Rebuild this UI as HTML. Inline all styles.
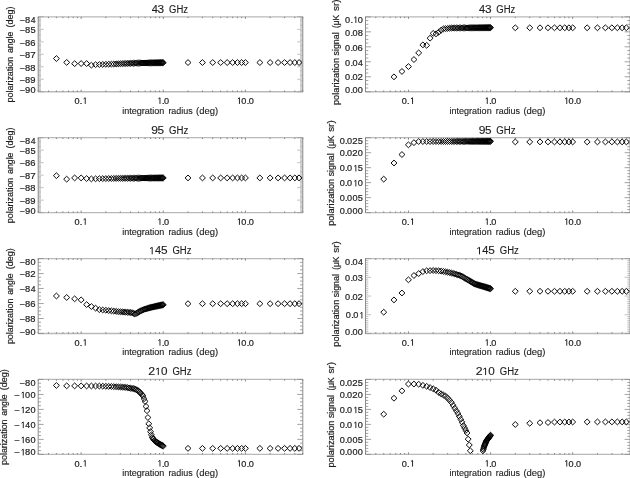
<!DOCTYPE html>
<html><head><meta charset="utf-8"><style>
html,body{margin:0;padding:0;background:#fff;}
body{width:630px;height:478px;overflow:hidden;}
svg{display:block;will-change:transform;}
text{font-family:"Liberation Sans",sans-serif;}
</style></head><body>
<svg width="630" height="478" viewBox="0 0 630 478">
<rect width="630" height="478" fill="#fff"/>
<defs><clipPath id="c0"><rect x="38.20" y="16.85" width="264.60" height="74.90"/></clipPath><clipPath id="c1"><rect x="365.50" y="16.85" width="264.60" height="74.90"/></clipPath><clipPath id="c2"><rect x="38.20" y="137.72" width="264.60" height="74.90"/></clipPath><clipPath id="c3"><rect x="365.50" y="137.72" width="264.60" height="74.90"/></clipPath><clipPath id="c4"><rect x="38.20" y="258.59" width="264.60" height="74.90"/></clipPath><clipPath id="c5"><rect x="365.50" y="258.59" width="264.60" height="74.90"/></clipPath><clipPath id="c6"><rect x="38.20" y="379.46" width="264.60" height="74.90"/></clipPath><clipPath id="c7"><rect x="365.50" y="379.46" width="264.60" height="74.90"/></clipPath></defs>
<line x1="38.20" y1="16.85" x2="302.80" y2="16.85" stroke="#b9b9b9" stroke-width="1.3"/>
<line x1="38.20" y1="91.75" x2="302.80" y2="91.75" stroke="#b9b9b9" stroke-width="1.3"/>
<path d="M38.20,91.75h5.5M302.80,91.75h-5.5M38.20,90.50h2.8M302.80,90.50h-2.8M38.20,89.25h2.8M302.80,89.25h-2.8M38.20,88.00h2.8M302.80,88.00h-2.8M38.20,86.76h2.8M302.80,86.76h-2.8M38.20,85.51h2.8M302.80,85.51h-2.8M38.20,84.26h2.8M302.80,84.26h-2.8M38.20,83.01h2.8M302.80,83.01h-2.8M38.20,81.76h2.8M302.80,81.76h-2.8M38.20,80.52h2.8M302.80,80.52h-2.8M38.20,79.27h5.5M302.80,79.27h-5.5M38.20,78.02h2.8M302.80,78.02h-2.8M38.20,76.77h2.8M302.80,76.77h-2.8M38.20,75.52h2.8M302.80,75.52h-2.8M38.20,74.27h2.8M302.80,74.27h-2.8M38.20,73.03h2.8M302.80,73.03h-2.8M38.20,71.78h2.8M302.80,71.78h-2.8M38.20,70.53h2.8M302.80,70.53h-2.8M38.20,69.28h2.8M302.80,69.28h-2.8M38.20,68.03h2.8M302.80,68.03h-2.8M38.20,66.78h5.5M302.80,66.78h-5.5M38.20,65.53h2.8M302.80,65.53h-2.8M38.20,64.29h2.8M302.80,64.29h-2.8M38.20,63.04h2.8M302.80,63.04h-2.8M38.20,61.79h2.8M302.80,61.79h-2.8M38.20,60.54h2.8M302.80,60.54h-2.8M38.20,59.29h2.8M302.80,59.29h-2.8M38.20,58.04h2.8M302.80,58.04h-2.8M38.20,56.80h2.8M302.80,56.80h-2.8M38.20,55.55h2.8M302.80,55.55h-2.8M38.20,54.30h5.5M302.80,54.30h-5.5M38.20,53.05h2.8M302.80,53.05h-2.8M38.20,51.80h2.8M302.80,51.80h-2.8M38.20,50.55h2.8M302.80,50.55h-2.8M38.20,49.31h2.8M302.80,49.31h-2.8M38.20,48.06h2.8M302.80,48.06h-2.8M38.20,46.81h2.8M302.80,46.81h-2.8M38.20,45.56h2.8M302.80,45.56h-2.8M38.20,44.31h2.8M302.80,44.31h-2.8M38.20,43.06h2.8M302.80,43.06h-2.8M38.20,41.82h5.5M302.80,41.82h-5.5M38.20,40.57h2.8M302.80,40.57h-2.8M38.20,39.32h2.8M302.80,39.32h-2.8M38.20,38.07h2.8M302.80,38.07h-2.8M38.20,36.82h2.8M302.80,36.82h-2.8M38.20,35.57h2.8M302.80,35.57h-2.8M38.20,34.33h2.8M302.80,34.33h-2.8M38.20,33.08h2.8M302.80,33.08h-2.8M38.20,31.83h2.8M302.80,31.83h-2.8M38.20,30.58h2.8M302.80,30.58h-2.8M38.20,29.33h5.5M302.80,29.33h-5.5M38.20,28.08h2.8M302.80,28.08h-2.8M38.20,26.84h2.8M302.80,26.84h-2.8M38.20,25.59h2.8M302.80,25.59h-2.8M38.20,24.34h2.8M302.80,24.34h-2.8M38.20,23.09h2.8M302.80,23.09h-2.8M38.20,21.84h2.8M302.80,21.84h-2.8M38.20,20.59h2.8M302.80,20.59h-2.8M38.20,19.35h2.8M302.80,19.35h-2.8M38.20,18.10h2.8M302.80,18.10h-2.8M38.20,16.85h5.5M302.80,16.85h-5.5" stroke="#8c8c8c" stroke-width="0.55" fill="none"/>
<line x1="38.20" y1="16.85" x2="38.20" y2="91.75" stroke="#8c8c8c" stroke-width="1"/>
<line x1="302.80" y1="16.85" x2="302.80" y2="91.75" stroke="#8c8c8c" stroke-width="1"/>
<path d="M38.20,91.75v-1.3M38.20,16.85v1.3M48.46,91.75v-1.3M48.46,16.85v1.3M56.42,91.75v-1.3M56.42,16.85v1.3M62.92,91.75v-1.3M62.92,16.85v1.3M68.42,91.75v-1.3M68.42,16.85v1.3M73.18,91.75v-1.3M73.18,16.85v1.3M77.38,91.75v-1.3M77.38,16.85v1.3M81.14,91.75v-2.0M81.14,16.85v2.0M105.86,91.75v-1.3M105.86,16.85v1.3M120.33,91.75v-1.3M120.33,16.85v1.3M130.59,91.75v-1.3M130.59,16.85v1.3M138.55,91.75v-1.3M138.55,16.85v1.3M145.05,91.75v-1.3M145.05,16.85v1.3M150.55,91.75v-1.3M150.55,16.85v1.3M155.31,91.75v-1.3M155.31,16.85v1.3M159.51,91.75v-1.3M159.51,16.85v1.3M163.27,91.75v-2.0M163.27,16.85v2.0M187.99,91.75v-1.3M187.99,16.85v1.3M202.45,91.75v-1.3M202.45,16.85v1.3M212.71,91.75v-1.3M212.71,16.85v1.3M220.67,91.75v-1.3M220.67,16.85v1.3M227.18,91.75v-1.3M227.18,16.85v1.3M232.67,91.75v-1.3M232.67,16.85v1.3M237.44,91.75v-1.3M237.44,16.85v1.3M241.64,91.75v-1.3M241.64,16.85v1.3M245.40,91.75v-2.0M245.40,16.85v2.0M270.12,91.75v-1.3M270.12,16.85v1.3M284.58,91.75v-1.3M284.58,16.85v1.3M294.84,91.75v-1.3M294.84,16.85v1.3M302.80,91.75v-1.3M302.80,16.85v1.3" stroke="#777" stroke-width="0.9" fill="none"/>
<path clip-path="url(#c0)" d="M53.42,58.54L56.42,55.64L59.42,58.54L56.42,61.44ZM63.68,62.41L66.68,59.51L69.68,62.41L66.68,65.31ZM71.64,63.66L74.64,60.76L77.64,63.66L74.64,66.56ZM78.14,63.54L81.14,60.64L84.14,63.54L81.14,66.44ZM83.64,63.54L86.64,60.64L89.64,63.54L86.64,66.44ZM88.40,65.16L91.40,62.26L94.40,65.16L91.40,68.06ZM92.60,64.66L95.60,61.76L98.60,64.66L95.60,67.56ZM96.36,64.54L99.36,61.64L102.36,64.54L99.36,67.44ZM99.76,64.42L102.76,61.52L105.76,64.42L102.76,67.32ZM102.86,64.31L105.86,61.41L108.86,64.31L105.86,67.21ZM105.72,64.21L108.72,61.31L111.72,64.21L108.72,67.11ZM108.36,64.12L111.36,61.22L114.36,64.12L111.36,67.02ZM110.82,64.04L113.82,61.14L116.82,64.04L113.82,66.94ZM113.13,63.92L116.13,61.02L119.13,63.92L116.13,66.82ZM115.29,63.82L118.29,60.92L121.29,63.82L118.29,66.72ZM117.33,63.72L120.33,60.82L123.33,63.72L120.33,66.62ZM119.26,63.63L122.26,60.73L125.26,63.63L122.26,66.53ZM121.08,63.54L124.08,60.64L127.08,63.54L124.08,66.44ZM122.82,63.48L125.82,60.58L128.82,63.48L125.82,66.38ZM124.48,63.42L127.48,60.52L130.48,63.42L127.48,66.32ZM126.07,63.37L129.07,60.47L132.07,63.37L129.07,66.27ZM127.59,63.31L130.59,60.41L133.59,63.31L130.59,66.21ZM129.04,63.26L132.04,60.36L135.04,63.26L132.04,66.16ZM130.44,63.21L133.44,60.31L136.44,63.21L133.44,66.11ZM131.79,63.17L134.79,60.27L137.79,63.17L134.79,66.07ZM133.09,63.12L136.09,60.22L139.09,63.12L136.09,66.02ZM134.34,63.08L137.34,60.18L140.34,63.08L137.34,65.98ZM135.55,63.04L138.55,60.14L141.55,63.04L138.55,65.94ZM136.72,63.02L139.72,60.12L142.72,63.02L139.72,65.92ZM137.85,63.00L140.85,60.10L143.85,63.00L140.85,65.90ZM138.95,62.99L141.95,60.09L144.95,62.99L141.95,65.89ZM140.01,62.97L143.01,60.07L146.01,62.97L143.01,65.87ZM141.04,62.96L144.04,60.06L147.04,62.96L144.04,65.86ZM142.05,62.94L145.05,60.04L148.05,62.94L145.05,65.84ZM143.03,62.93L146.03,60.03L149.03,62.93L146.03,65.83ZM143.98,62.91L146.98,60.01L149.98,62.91L146.98,65.81ZM144.90,62.90L147.90,60.00L150.90,62.90L147.90,65.80ZM145.81,62.88L148.81,59.98L151.81,62.88L148.81,65.78ZM146.69,62.87L149.69,59.97L152.69,62.87L149.69,65.77ZM147.55,62.86L150.55,59.96L153.55,62.86L150.55,65.76ZM148.39,62.84L151.39,59.94L154.39,62.84L151.39,65.74ZM149.21,62.83L152.21,59.93L155.21,62.83L152.21,65.73ZM150.01,62.82L153.01,59.92L156.01,62.82L153.01,65.72ZM150.79,62.81L153.79,59.91L156.79,62.81L153.79,65.71ZM151.56,62.80L154.56,59.90L157.56,62.80L154.56,65.70ZM152.31,62.78L155.31,59.88L158.31,62.78L155.31,65.68ZM153.05,62.77L156.05,59.87L159.05,62.77L156.05,65.67ZM153.77,62.76L156.77,59.86L159.77,62.76L156.77,65.66ZM154.47,62.75L157.47,59.85L160.47,62.75L157.47,65.65ZM155.17,62.74L158.17,59.84L161.17,62.74L158.17,65.64ZM155.84,62.73L158.84,59.83L161.84,62.73L158.84,65.63ZM156.51,62.72L159.51,59.82L162.51,62.72L159.51,65.62ZM157.17,62.71L160.17,59.81L163.17,62.71L160.17,65.61ZM157.81,62.70L160.81,59.80L163.81,62.70L160.81,65.60ZM158.44,62.69L161.44,59.79L164.44,62.69L161.44,65.59ZM159.06,62.68L162.06,59.78L165.06,62.68L162.06,65.58ZM159.67,62.67L162.67,59.77L165.67,62.67L162.67,65.57ZM160.27,62.66L163.27,59.76L166.27,62.66L163.27,65.56ZM184.99,62.54L187.99,59.64L190.99,62.54L187.99,65.44ZM199.45,62.54L202.45,59.64L205.45,62.54L202.45,65.44ZM209.71,62.54L212.71,59.64L215.71,62.54L212.71,65.44ZM217.67,62.54L220.67,59.64L223.67,62.54L220.67,65.44ZM224.18,62.54L227.18,59.64L230.18,62.54L227.18,65.44ZM229.67,62.54L232.67,59.64L235.67,62.54L232.67,65.44ZM234.44,62.54L237.44,59.64L240.44,62.54L237.44,65.44ZM238.64,62.54L241.64,59.64L244.64,62.54L241.64,65.44ZM242.40,62.54L245.40,59.64L248.40,62.54L245.40,65.44ZM256.86,62.54L259.86,59.64L262.86,62.54L259.86,65.44ZM267.12,62.54L270.12,59.64L273.12,62.54L270.12,65.44ZM275.08,62.54L278.08,59.64L281.08,62.54L278.08,65.44ZM281.58,62.54L284.58,59.64L287.58,62.54L284.58,65.44ZM287.08,62.54L290.08,59.64L293.08,62.54L290.08,65.44ZM291.84,62.54L294.84,59.64L297.84,62.54L294.84,65.44ZM296.04,62.54L299.04,59.64L302.04,62.54L299.04,65.44Z" fill="none" stroke="#000" stroke-width="0.95"/>
<line x1="365.50" y1="16.85" x2="630.10" y2="16.85" stroke="#b9b9b9" stroke-width="1.3"/>
<line x1="365.50" y1="91.75" x2="630.10" y2="91.75" stroke="#b9b9b9" stroke-width="1.3"/>
<path d="M365.50,91.75h5.5M630.10,91.75h-5.5M365.50,88.00h2.8M630.10,88.00h-2.8M365.50,84.26h2.8M630.10,84.26h-2.8M365.50,80.52h2.8M630.10,80.52h-2.8M365.50,76.77h5.5M630.10,76.77h-5.5M365.50,73.03h2.8M630.10,73.03h-2.8M365.50,69.28h2.8M630.10,69.28h-2.8M365.50,65.53h2.8M630.10,65.53h-2.8M365.50,61.79h5.5M630.10,61.79h-5.5M365.50,58.04h2.8M630.10,58.04h-2.8M365.50,54.30h2.8M630.10,54.30h-2.8M365.50,50.55h2.8M630.10,50.55h-2.8M365.50,46.81h5.5M630.10,46.81h-5.5M365.50,43.06h2.8M630.10,43.06h-2.8M365.50,39.32h2.8M630.10,39.32h-2.8M365.50,35.57h2.8M630.10,35.57h-2.8M365.50,31.83h5.5M630.10,31.83h-5.5M365.50,28.08h2.8M630.10,28.08h-2.8M365.50,24.34h2.8M630.10,24.34h-2.8M365.50,20.59h2.8M630.10,20.59h-2.8M365.50,16.85h5.5M630.10,16.85h-5.5" stroke="#8c8c8c" stroke-width="0.8" fill="none"/>
<line x1="365.50" y1="16.85" x2="365.50" y2="91.75" stroke="#8c8c8c" stroke-width="1"/>
<line x1="630.10" y1="16.85" x2="630.10" y2="91.75" stroke="#8c8c8c" stroke-width="1"/>
<path d="M365.50,91.75v-1.3M365.50,16.85v1.3M375.76,91.75v-1.3M375.76,16.85v1.3M383.72,91.75v-1.3M383.72,16.85v1.3M390.22,91.75v-1.3M390.22,16.85v1.3M395.72,91.75v-1.3M395.72,16.85v1.3M400.48,91.75v-1.3M400.48,16.85v1.3M404.68,91.75v-1.3M404.68,16.85v1.3M408.44,91.75v-2.0M408.44,16.85v2.0M433.16,91.75v-1.3M433.16,16.85v1.3M447.63,91.75v-1.3M447.63,16.85v1.3M457.89,91.75v-1.3M457.89,16.85v1.3M465.85,91.75v-1.3M465.85,16.85v1.3M472.35,91.75v-1.3M472.35,16.85v1.3M477.85,91.75v-1.3M477.85,16.85v1.3M482.61,91.75v-1.3M482.61,16.85v1.3M486.81,91.75v-1.3M486.81,16.85v1.3M490.57,91.75v-2.0M490.57,16.85v2.0M515.29,91.75v-1.3M515.29,16.85v1.3M529.75,91.75v-1.3M529.75,16.85v1.3M540.01,91.75v-1.3M540.01,16.85v1.3M547.97,91.75v-1.3M547.97,16.85v1.3M554.48,91.75v-1.3M554.48,16.85v1.3M559.97,91.75v-1.3M559.97,16.85v1.3M564.74,91.75v-1.3M564.74,16.85v1.3M568.94,91.75v-1.3M568.94,16.85v1.3M572.70,91.75v-2.0M572.70,16.85v2.0M597.42,91.75v-1.3M597.42,16.85v1.3M611.88,91.75v-1.3M611.88,16.85v1.3M622.14,91.75v-1.3M622.14,16.85v1.3M630.10,91.75v-1.3M630.10,16.85v1.3" stroke="#777" stroke-width="0.9" fill="none"/>
<path clip-path="url(#c1)" d="M390.98,76.84L393.98,73.94L396.98,76.84L393.98,79.74ZM398.94,71.45L401.94,68.55L404.94,71.45L401.94,74.35ZM405.44,66.58L408.44,63.68L411.44,66.58L408.44,69.48ZM410.94,59.54L413.94,56.64L416.94,59.54L413.94,62.44ZM415.70,52.88L418.70,49.98L421.70,52.88L418.70,55.78ZM419.90,44.86L422.90,41.96L425.90,44.86L422.90,47.76ZM423.66,45.31L426.66,42.41L429.66,45.31L426.66,48.21ZM427.06,38.20L430.06,35.30L433.06,38.20L430.06,41.10ZM430.16,33.40L433.16,30.50L436.16,33.40L433.16,36.30ZM433.02,33.85L436.02,30.95L439.02,33.85L436.02,36.75ZM435.66,32.20L438.66,29.30L441.66,32.20L438.66,35.10ZM438.12,30.18L441.12,27.28L444.12,30.18L441.12,33.08ZM440.43,28.83L443.43,25.93L446.43,28.83L443.43,31.73ZM442.59,28.61L445.59,25.71L448.59,28.61L445.59,31.51ZM444.63,28.40L447.63,25.50L450.63,28.40L447.63,31.30ZM446.56,28.20L449.56,25.30L452.56,28.20L449.56,31.10ZM448.38,28.01L451.38,25.11L454.38,28.01L451.38,30.91ZM450.12,27.99L453.12,25.09L456.12,27.99L453.12,30.89ZM451.78,27.98L454.78,25.08L457.78,27.98L454.78,30.88ZM453.37,27.96L456.37,25.06L459.37,27.96L456.37,30.86ZM454.89,27.95L457.89,25.05L460.89,27.95L457.89,30.85ZM456.34,27.93L459.34,25.03L462.34,27.93L459.34,30.83ZM457.74,27.92L460.74,25.02L463.74,27.92L460.74,30.82ZM459.09,27.91L462.09,25.01L465.09,27.91L462.09,30.81ZM460.39,27.90L463.39,25.00L466.39,27.90L463.39,30.80ZM461.64,27.88L464.64,24.98L467.64,27.88L464.64,30.78ZM462.85,27.87L465.85,24.97L468.85,27.87L465.85,30.77ZM464.02,27.86L467.02,24.96L470.02,27.86L467.02,30.76ZM465.15,27.85L468.15,24.95L471.15,27.85L468.15,30.75ZM466.25,27.84L469.25,24.94L472.25,27.84L469.25,30.74ZM467.31,27.83L470.31,24.93L473.31,27.83L470.31,30.73ZM468.34,27.82L471.34,24.92L474.34,27.82L471.34,30.72ZM469.35,27.81L472.35,24.91L475.35,27.81L472.35,30.71ZM470.33,27.80L473.33,24.90L476.33,27.80L473.33,30.70ZM471.28,27.79L474.28,24.89L477.28,27.79L474.28,30.69ZM472.20,27.78L475.20,24.88L478.20,27.78L475.20,30.68ZM473.11,27.77L476.11,24.87L479.11,27.77L476.11,30.67ZM473.99,27.77L476.99,24.87L479.99,27.77L476.99,30.67ZM474.85,27.76L477.85,24.86L480.85,27.76L477.85,30.66ZM475.69,27.75L478.69,24.85L481.69,27.75L478.69,30.65ZM476.51,27.74L479.51,24.84L482.51,27.74L479.51,30.64ZM477.31,27.73L480.31,24.83L483.31,27.73L480.31,30.63ZM478.09,27.73L481.09,24.83L484.09,27.73L481.09,30.63ZM478.86,27.72L481.86,24.82L484.86,27.72L481.86,30.62ZM479.61,27.71L482.61,24.81L485.61,27.71L482.61,30.61ZM480.35,27.70L483.35,24.80L486.35,27.70L483.35,30.60ZM481.07,27.70L484.07,24.80L487.07,27.70L484.07,30.60ZM481.77,27.69L484.77,24.79L487.77,27.69L484.77,30.59ZM482.47,27.68L485.47,24.78L488.47,27.68L485.47,30.58ZM483.14,27.68L486.14,24.78L489.14,27.68L486.14,30.58ZM483.81,27.67L486.81,24.77L489.81,27.67L486.81,30.57ZM484.47,27.67L487.47,24.77L490.47,27.67L487.47,30.57ZM485.11,27.66L488.11,24.76L491.11,27.66L488.11,30.56ZM485.74,27.65L488.74,24.75L491.74,27.65L488.74,30.55ZM486.36,27.65L489.36,24.75L492.36,27.65L489.36,30.55ZM486.97,27.64L489.97,24.74L492.97,27.64L489.97,30.54ZM487.57,27.64L490.57,24.74L493.57,27.64L490.57,30.54ZM512.29,27.79L515.29,24.89L518.29,27.79L515.29,30.69ZM526.75,27.79L529.75,24.89L532.75,27.79L529.75,30.69ZM537.01,27.79L540.01,24.89L543.01,27.79L540.01,30.69ZM544.97,27.79L547.97,24.89L550.97,27.79L547.97,30.69ZM551.48,27.79L554.48,24.89L557.48,27.79L554.48,30.69ZM556.97,27.79L559.97,24.89L562.97,27.79L559.97,30.69ZM561.74,27.79L564.74,24.89L567.74,27.79L564.74,30.69ZM565.94,27.79L568.94,24.89L571.94,27.79L568.94,30.69ZM569.70,27.79L572.70,24.89L575.70,27.79L572.70,30.69ZM584.16,27.79L587.16,24.89L590.16,27.79L587.16,30.69ZM594.42,27.79L597.42,24.89L600.42,27.79L597.42,30.69ZM602.38,27.79L605.38,24.89L608.38,27.79L605.38,30.69ZM608.88,27.79L611.88,24.89L614.88,27.79L611.88,30.69ZM614.38,27.79L617.38,24.89L620.38,27.79L617.38,30.69ZM619.14,27.79L622.14,24.89L625.14,27.79L622.14,30.69ZM623.34,27.79L626.34,24.89L629.34,27.79L626.34,30.69Z" fill="none" stroke="#000" stroke-width="0.95"/>
<line x1="38.20" y1="137.72" x2="302.80" y2="137.72" stroke="#b9b9b9" stroke-width="1.3"/>
<line x1="38.20" y1="212.62" x2="302.80" y2="212.62" stroke="#b9b9b9" stroke-width="1.3"/>
<path d="M38.20,212.62h5.5M302.80,212.62h-5.5M38.20,211.37h2.8M302.80,211.37h-2.8M38.20,210.12h2.8M302.80,210.12h-2.8M38.20,208.88h2.8M302.80,208.88h-2.8M38.20,207.63h2.8M302.80,207.63h-2.8M38.20,206.38h2.8M302.80,206.38h-2.8M38.20,205.13h2.8M302.80,205.13h-2.8M38.20,203.88h2.8M302.80,203.88h-2.8M38.20,202.63h2.8M302.80,202.63h-2.8M38.20,201.38h2.8M302.80,201.38h-2.8M38.20,200.14h5.5M302.80,200.14h-5.5M38.20,198.89h2.8M302.80,198.89h-2.8M38.20,197.64h2.8M302.80,197.64h-2.8M38.20,196.39h2.8M302.80,196.39h-2.8M38.20,195.14h2.8M302.80,195.14h-2.8M38.20,193.90h2.8M302.80,193.90h-2.8M38.20,192.65h2.8M302.80,192.65h-2.8M38.20,191.40h2.8M302.80,191.40h-2.8M38.20,190.15h2.8M302.80,190.15h-2.8M38.20,188.90h2.8M302.80,188.90h-2.8M38.20,187.65h5.5M302.80,187.65h-5.5M38.20,186.41h2.8M302.80,186.41h-2.8M38.20,185.16h2.8M302.80,185.16h-2.8M38.20,183.91h2.8M302.80,183.91h-2.8M38.20,182.66h2.8M302.80,182.66h-2.8M38.20,181.41h2.8M302.80,181.41h-2.8M38.20,180.16h2.8M302.80,180.16h-2.8M38.20,178.91h2.8M302.80,178.91h-2.8M38.20,177.67h2.8M302.80,177.67h-2.8M38.20,176.42h2.8M302.80,176.42h-2.8M38.20,175.17h5.5M302.80,175.17h-5.5M38.20,173.92h2.8M302.80,173.92h-2.8M38.20,172.67h2.8M302.80,172.67h-2.8M38.20,171.43h2.8M302.80,171.43h-2.8M38.20,170.18h2.8M302.80,170.18h-2.8M38.20,168.93h2.8M302.80,168.93h-2.8M38.20,167.68h2.8M302.80,167.68h-2.8M38.20,166.43h2.8M302.80,166.43h-2.8M38.20,165.18h2.8M302.80,165.18h-2.8M38.20,163.94h2.8M302.80,163.94h-2.8M38.20,162.69h5.5M302.80,162.69h-5.5M38.20,161.44h2.8M302.80,161.44h-2.8M38.20,160.19h2.8M302.80,160.19h-2.8M38.20,158.94h2.8M302.80,158.94h-2.8M38.20,157.69h2.8M302.80,157.69h-2.8M38.20,156.44h2.8M302.80,156.44h-2.8M38.20,155.20h2.8M302.80,155.20h-2.8M38.20,153.95h2.8M302.80,153.95h-2.8M38.20,152.70h2.8M302.80,152.70h-2.8M38.20,151.45h2.8M302.80,151.45h-2.8M38.20,150.20h5.5M302.80,150.20h-5.5M38.20,148.95h2.8M302.80,148.95h-2.8M38.20,147.71h2.8M302.80,147.71h-2.8M38.20,146.46h2.8M302.80,146.46h-2.8M38.20,145.21h2.8M302.80,145.21h-2.8M38.20,143.96h2.8M302.80,143.96h-2.8M38.20,142.71h2.8M302.80,142.71h-2.8M38.20,141.47h2.8M302.80,141.47h-2.8M38.20,140.22h2.8M302.80,140.22h-2.8M38.20,138.97h2.8M302.80,138.97h-2.8M38.20,137.72h5.5M302.80,137.72h-5.5" stroke="#8c8c8c" stroke-width="0.55" fill="none"/>
<line x1="38.20" y1="137.72" x2="38.20" y2="212.62" stroke="#8c8c8c" stroke-width="1"/>
<line x1="302.80" y1="137.72" x2="302.80" y2="212.62" stroke="#8c8c8c" stroke-width="1"/>
<path d="M38.20,212.62v-1.3M38.20,137.72v1.3M48.46,212.62v-1.3M48.46,137.72v1.3M56.42,212.62v-1.3M56.42,137.72v1.3M62.92,212.62v-1.3M62.92,137.72v1.3M68.42,212.62v-1.3M68.42,137.72v1.3M73.18,212.62v-1.3M73.18,137.72v1.3M77.38,212.62v-1.3M77.38,137.72v1.3M81.14,212.62v-2.0M81.14,137.72v2.0M105.86,212.62v-1.3M105.86,137.72v1.3M120.33,212.62v-1.3M120.33,137.72v1.3M130.59,212.62v-1.3M130.59,137.72v1.3M138.55,212.62v-1.3M138.55,137.72v1.3M145.05,212.62v-1.3M145.05,137.72v1.3M150.55,212.62v-1.3M150.55,137.72v1.3M155.31,212.62v-1.3M155.31,137.72v1.3M159.51,212.62v-1.3M159.51,137.72v1.3M163.27,212.62v-2.0M163.27,137.72v2.0M187.99,212.62v-1.3M187.99,137.72v1.3M202.45,212.62v-1.3M202.45,137.72v1.3M212.71,212.62v-1.3M212.71,137.72v1.3M220.67,212.62v-1.3M220.67,137.72v1.3M227.18,212.62v-1.3M227.18,137.72v1.3M232.67,212.62v-1.3M232.67,137.72v1.3M237.44,212.62v-1.3M237.44,137.72v1.3M241.64,212.62v-1.3M241.64,137.72v1.3M245.40,212.62v-2.0M245.40,137.72v2.0M270.12,212.62v-1.3M270.12,137.72v1.3M284.58,212.62v-1.3M284.58,137.72v1.3M294.84,212.62v-1.3M294.84,137.72v1.3M302.80,212.62v-1.3M302.80,137.72v1.3" stroke="#777" stroke-width="0.9" fill="none"/>
<path clip-path="url(#c2)" d="M53.42,175.67L56.42,172.77L59.42,175.67L56.42,178.57ZM63.68,179.16L66.68,176.26L69.68,179.16L66.68,182.06ZM71.64,177.92L74.64,175.02L77.64,177.92L74.64,180.82ZM78.14,177.92L81.14,175.02L84.14,177.92L81.14,180.82ZM83.64,178.54L86.64,175.64L89.64,178.54L86.64,181.44ZM88.40,178.91L91.40,176.01L94.40,178.91L91.40,181.81ZM92.60,178.78L95.60,175.88L98.60,178.78L95.60,181.68ZM96.36,178.67L99.36,175.77L102.36,178.67L99.36,181.57ZM99.76,178.61L102.76,175.71L105.76,178.61L102.76,181.51ZM102.86,178.57L105.86,175.67L108.86,178.57L105.86,181.47ZM105.72,178.52L108.72,175.62L111.72,178.52L108.72,181.42ZM108.36,178.48L111.36,175.58L114.36,178.48L111.36,181.38ZM110.82,178.45L113.82,175.55L116.82,178.45L113.82,181.35ZM113.13,178.41L116.13,175.51L119.13,178.41L116.13,181.31ZM115.29,178.38L118.29,175.48L121.29,178.38L118.29,181.28ZM117.33,178.35L120.33,175.45L123.33,178.35L120.33,181.25ZM119.26,178.32L122.26,175.42L125.26,178.32L122.26,181.22ZM121.08,178.29L124.08,175.39L127.08,178.29L124.08,181.19ZM122.82,178.27L125.82,175.37L128.82,178.27L125.82,181.17ZM124.48,178.26L127.48,175.36L130.48,178.26L127.48,181.16ZM126.07,178.24L129.07,175.34L132.07,178.24L129.07,181.14ZM127.59,178.23L130.59,175.33L133.59,178.23L130.59,181.13ZM129.04,178.21L132.04,175.31L135.04,178.21L132.04,181.11ZM130.44,178.20L133.44,175.30L136.44,178.20L133.44,181.10ZM131.79,178.19L134.79,175.29L137.79,178.19L134.79,181.09ZM133.09,178.18L136.09,175.28L139.09,178.18L136.09,181.08ZM134.34,178.16L137.34,175.26L140.34,178.16L137.34,181.06ZM135.55,178.15L138.55,175.25L141.55,178.15L138.55,181.05ZM136.72,178.14L139.72,175.24L142.72,178.14L139.72,181.04ZM137.85,178.13L140.85,175.23L143.85,178.13L140.85,181.03ZM138.95,178.12L141.95,175.22L144.95,178.12L141.95,181.02ZM140.01,178.11L143.01,175.21L146.01,178.11L143.01,181.01ZM141.04,178.10L144.04,175.20L147.04,178.10L144.04,181.00ZM142.05,178.09L145.05,175.19L148.05,178.09L145.05,180.99ZM143.03,178.08L146.03,175.18L149.03,178.08L146.03,180.98ZM143.98,178.07L146.98,175.17L149.98,178.07L146.98,180.97ZM144.90,178.06L147.90,175.16L150.90,178.06L147.90,180.96ZM145.81,178.05L148.81,175.15L151.81,178.05L148.81,180.95ZM146.69,178.05L149.69,175.15L152.69,178.05L149.69,180.95ZM147.55,178.04L150.55,175.14L153.55,178.04L150.55,180.94ZM148.39,178.03L151.39,175.13L154.39,178.03L151.39,180.93ZM149.21,178.02L152.21,175.12L155.21,178.02L152.21,180.92ZM150.01,178.01L153.01,175.11L156.01,178.01L153.01,180.91ZM150.79,178.01L153.79,175.11L156.79,178.01L153.79,180.91ZM151.56,178.00L154.56,175.10L157.56,178.00L154.56,180.90ZM152.31,177.99L155.31,175.09L158.31,177.99L155.31,180.89ZM153.05,177.99L156.05,175.09L159.05,177.99L156.05,180.89ZM153.77,177.98L156.77,175.08L159.77,177.98L156.77,180.88ZM154.47,177.97L157.47,175.07L160.47,177.97L157.47,180.87ZM155.17,177.97L158.17,175.07L161.17,177.97L158.17,180.87ZM155.84,177.96L158.84,175.06L161.84,177.96L158.84,180.86ZM156.51,177.95L159.51,175.05L162.51,177.95L159.51,180.85ZM157.17,177.95L160.17,175.05L163.17,177.95L160.17,180.85ZM157.81,177.94L160.81,175.04L163.81,177.94L160.81,180.84ZM158.44,177.93L161.44,175.03L164.44,177.93L161.44,180.83ZM159.06,177.93L162.06,175.03L165.06,177.93L162.06,180.83ZM159.67,177.92L162.67,175.02L165.67,177.92L162.67,180.82ZM160.27,177.92L163.27,175.02L166.27,177.92L163.27,180.82ZM184.99,177.92L187.99,175.02L190.99,177.92L187.99,180.82ZM199.45,177.92L202.45,175.02L205.45,177.92L202.45,180.82ZM209.71,177.92L212.71,175.02L215.71,177.92L212.71,180.82ZM217.67,177.92L220.67,175.02L223.67,177.92L220.67,180.82ZM224.18,177.92L227.18,175.02L230.18,177.92L227.18,180.82ZM229.67,177.92L232.67,175.02L235.67,177.92L232.67,180.82ZM234.44,177.92L237.44,175.02L240.44,177.92L237.44,180.82ZM238.64,177.92L241.64,175.02L244.64,177.92L241.64,180.82ZM242.40,177.92L245.40,175.02L248.40,177.92L245.40,180.82ZM256.86,177.92L259.86,175.02L262.86,177.92L259.86,180.82ZM267.12,177.92L270.12,175.02L273.12,177.92L270.12,180.82ZM275.08,177.92L278.08,175.02L281.08,177.92L278.08,180.82ZM281.58,177.92L284.58,175.02L287.58,177.92L284.58,180.82ZM287.08,177.92L290.08,175.02L293.08,177.92L290.08,180.82ZM291.84,177.92L294.84,175.02L297.84,177.92L294.84,180.82ZM296.04,177.92L299.04,175.02L302.04,177.92L299.04,180.82Z" fill="none" stroke="#000" stroke-width="0.95"/>
<line x1="365.50" y1="137.72" x2="630.10" y2="137.72" stroke="#b9b9b9" stroke-width="1.3"/>
<line x1="365.50" y1="212.62" x2="630.10" y2="212.62" stroke="#b9b9b9" stroke-width="1.3"/>
<path d="M365.50,212.62h5.5M630.10,212.62h-5.5M365.50,209.62h2.8M630.10,209.62h-2.8M365.50,206.63h2.8M630.10,206.63h-2.8M365.50,203.63h2.8M630.10,203.63h-2.8M365.50,200.64h2.8M630.10,200.64h-2.8M365.50,197.64h5.5M630.10,197.64h-5.5M365.50,194.64h2.8M630.10,194.64h-2.8M365.50,191.65h2.8M630.10,191.65h-2.8M365.50,188.65h2.8M630.10,188.65h-2.8M365.50,185.66h2.8M630.10,185.66h-2.8M365.50,182.66h5.5M630.10,182.66h-5.5M365.50,179.66h2.8M630.10,179.66h-2.8M365.50,176.67h2.8M630.10,176.67h-2.8M365.50,173.67h2.8M630.10,173.67h-2.8M365.50,170.68h2.8M630.10,170.68h-2.8M365.50,167.68h5.5M630.10,167.68h-5.5M365.50,164.68h2.8M630.10,164.68h-2.8M365.50,161.69h2.8M630.10,161.69h-2.8M365.50,158.69h2.8M630.10,158.69h-2.8M365.50,155.70h2.8M630.10,155.70h-2.8M365.50,152.70h5.5M630.10,152.70h-5.5M365.50,149.70h2.8M630.10,149.70h-2.8M365.50,146.71h2.8M630.10,146.71h-2.8M365.50,143.71h2.8M630.10,143.71h-2.8M365.50,140.72h2.8M630.10,140.72h-2.8M365.50,137.72h5.5M630.10,137.72h-5.5" stroke="#8c8c8c" stroke-width="0.8" fill="none"/>
<line x1="365.50" y1="137.72" x2="365.50" y2="212.62" stroke="#8c8c8c" stroke-width="1"/>
<line x1="630.10" y1="137.72" x2="630.10" y2="212.62" stroke="#8c8c8c" stroke-width="1"/>
<path d="M365.50,212.62v-1.3M365.50,137.72v1.3M375.76,212.62v-1.3M375.76,137.72v1.3M383.72,212.62v-1.3M383.72,137.72v1.3M390.22,212.62v-1.3M390.22,137.72v1.3M395.72,212.62v-1.3M395.72,137.72v1.3M400.48,212.62v-1.3M400.48,137.72v1.3M404.68,212.62v-1.3M404.68,137.72v1.3M408.44,212.62v-2.0M408.44,137.72v2.0M433.16,212.62v-1.3M433.16,137.72v1.3M447.63,212.62v-1.3M447.63,137.72v1.3M457.89,212.62v-1.3M457.89,137.72v1.3M465.85,212.62v-1.3M465.85,137.72v1.3M472.35,212.62v-1.3M472.35,137.72v1.3M477.85,212.62v-1.3M477.85,137.72v1.3M482.61,212.62v-1.3M482.61,137.72v1.3M486.81,212.62v-1.3M486.81,137.72v1.3M490.57,212.62v-2.0M490.57,137.72v2.0M515.29,212.62v-1.3M515.29,137.72v1.3M529.75,212.62v-1.3M529.75,137.72v1.3M540.01,212.62v-1.3M540.01,137.72v1.3M547.97,212.62v-1.3M547.97,137.72v1.3M554.48,212.62v-1.3M554.48,137.72v1.3M559.97,212.62v-1.3M559.97,137.72v1.3M564.74,212.62v-1.3M564.74,137.72v1.3M568.94,212.62v-1.3M568.94,137.72v1.3M572.70,212.62v-2.0M572.70,137.72v2.0M597.42,212.62v-1.3M597.42,137.72v1.3M611.88,212.62v-1.3M611.88,137.72v1.3M622.14,212.62v-1.3M622.14,137.72v1.3M630.10,212.62v-1.3M630.10,137.72v1.3" stroke="#777" stroke-width="0.9" fill="none"/>
<path clip-path="url(#c3)" d="M380.72,179.12L383.72,176.22L386.72,179.12L383.72,182.02ZM390.98,163.01L393.98,160.11L396.98,163.01L393.98,165.91ZM398.94,154.53L401.94,151.63L404.94,154.53L401.94,157.43ZM405.44,144.82L408.44,141.92L411.44,144.82L408.44,147.72ZM410.94,142.63L413.94,139.73L416.94,142.63L413.94,145.53ZM415.70,141.52L418.70,138.62L421.70,141.52L418.70,144.42ZM419.90,141.52L422.90,138.62L425.90,141.52L422.90,144.42ZM423.66,141.52L426.66,138.62L429.66,141.52L426.66,144.42ZM427.06,141.51L430.06,138.61L433.06,141.51L430.06,144.41ZM430.16,141.50L433.16,138.60L436.16,141.50L433.16,144.40ZM433.02,141.49L436.02,138.59L439.02,141.49L436.02,144.39ZM435.66,141.49L438.66,138.59L441.66,141.49L438.66,144.39ZM438.12,141.48L441.12,138.58L444.12,141.48L441.12,144.38ZM440.43,141.47L443.43,138.57L446.43,141.47L443.43,144.37ZM442.59,141.46L445.59,138.56L448.59,141.46L445.59,144.36ZM444.63,141.46L447.63,138.56L450.63,141.46L447.63,144.36ZM446.56,141.45L449.56,138.55L452.56,141.45L449.56,144.35ZM448.38,141.44L451.38,138.54L454.38,141.44L451.38,144.34ZM450.12,141.44L453.12,138.54L456.12,141.44L453.12,144.34ZM451.78,141.43L454.78,138.53L457.78,141.43L454.78,144.33ZM453.37,141.43L456.37,138.53L459.37,141.43L456.37,144.33ZM454.89,141.42L457.89,138.52L460.89,141.42L457.89,144.32ZM456.34,141.42L459.34,138.52L462.34,141.42L459.34,144.32ZM457.74,141.41L460.74,138.51L463.74,141.41L460.74,144.31ZM459.09,141.41L462.09,138.51L465.09,141.41L462.09,144.31ZM460.39,141.40L463.39,138.50L466.39,141.40L463.39,144.30ZM461.64,141.40L464.64,138.50L467.64,141.40L464.64,144.30ZM462.85,141.40L465.85,138.50L468.85,141.40L465.85,144.30ZM464.02,141.39L467.02,138.49L470.02,141.39L467.02,144.29ZM465.15,141.39L468.15,138.49L471.15,141.39L468.15,144.29ZM466.25,141.39L469.25,138.49L472.25,141.39L469.25,144.29ZM467.31,141.38L470.31,138.48L473.31,141.38L470.31,144.28ZM468.34,141.38L471.34,138.48L474.34,141.38L471.34,144.28ZM469.35,141.37L472.35,138.47L475.35,141.37L472.35,144.27ZM470.33,141.37L473.33,138.47L476.33,141.37L473.33,144.27ZM471.28,141.37L474.28,138.47L477.28,141.37L474.28,144.27ZM472.20,141.37L475.20,138.47L478.20,141.37L475.20,144.27ZM473.11,141.36L476.11,138.46L479.11,141.36L476.11,144.26ZM473.99,141.36L476.99,138.46L479.99,141.36L476.99,144.26ZM474.85,141.36L477.85,138.46L480.85,141.36L477.85,144.26ZM475.69,141.35L478.69,138.45L481.69,141.35L478.69,144.25ZM476.51,141.35L479.51,138.45L482.51,141.35L479.51,144.25ZM477.31,141.35L480.31,138.45L483.31,141.35L480.31,144.25ZM478.09,141.35L481.09,138.45L484.09,141.35L481.09,144.25ZM478.86,141.34L481.86,138.44L484.86,141.34L481.86,144.24ZM479.61,141.34L482.61,138.44L485.61,141.34L482.61,144.24ZM480.35,141.34L483.35,138.44L486.35,141.34L483.35,144.24ZM481.07,141.34L484.07,138.44L487.07,141.34L484.07,144.24ZM481.77,141.33L484.77,138.43L487.77,141.33L484.77,144.23ZM482.47,141.33L485.47,138.43L488.47,141.33L485.47,144.23ZM483.14,141.33L486.14,138.43L489.14,141.33L486.14,144.23ZM483.81,141.33L486.81,138.43L489.81,141.33L486.81,144.23ZM484.47,141.33L487.47,138.43L490.47,141.33L487.47,144.23ZM485.11,141.32L488.11,138.42L491.11,141.32L488.11,144.22ZM485.74,141.32L488.74,138.42L491.74,141.32L488.74,144.22ZM486.36,141.32L489.36,138.42L492.36,141.32L489.36,144.22ZM486.97,141.32L489.97,138.42L492.97,141.32L489.97,144.22ZM487.57,141.32L490.57,138.42L493.57,141.32L490.57,144.22ZM512.29,141.91L515.29,139.01L518.29,141.91L515.29,144.81ZM526.75,141.91L529.75,139.01L532.75,141.91L529.75,144.81ZM537.01,141.91L540.01,139.01L543.01,141.91L540.01,144.81ZM544.97,141.91L547.97,139.01L550.97,141.91L547.97,144.81ZM551.48,141.91L554.48,139.01L557.48,141.91L554.48,144.81ZM556.97,141.91L559.97,139.01L562.97,141.91L559.97,144.81ZM561.74,141.91L564.74,139.01L567.74,141.91L564.74,144.81ZM565.94,141.91L568.94,139.01L571.94,141.91L568.94,144.81ZM569.70,141.91L572.70,139.01L575.70,141.91L572.70,144.81ZM584.16,141.91L587.16,139.01L590.16,141.91L587.16,144.81ZM594.42,141.91L597.42,139.01L600.42,141.91L597.42,144.81ZM602.38,141.91L605.38,139.01L608.38,141.91L605.38,144.81ZM608.88,141.91L611.88,139.01L614.88,141.91L611.88,144.81ZM614.38,141.91L617.38,139.01L620.38,141.91L617.38,144.81ZM619.14,141.91L622.14,139.01L625.14,141.91L622.14,144.81ZM623.34,141.91L626.34,139.01L629.34,141.91L626.34,144.81Z" fill="none" stroke="#000" stroke-width="0.95"/>
<line x1="38.20" y1="258.59" x2="302.80" y2="258.59" stroke="#b9b9b9" stroke-width="1.3"/>
<line x1="38.20" y1="333.49" x2="302.80" y2="333.49" stroke="#b9b9b9" stroke-width="1.3"/>
<path d="M38.20,333.49h5.5M302.80,333.49h-5.5M38.20,329.75h2.8M302.80,329.75h-2.8M38.20,326.00h2.8M302.80,326.00h-2.8M38.20,322.25h2.8M302.80,322.25h-2.8M38.20,318.51h5.5M302.80,318.51h-5.5M38.20,314.76h2.8M302.80,314.76h-2.8M38.20,311.02h2.8M302.80,311.02h-2.8M38.20,307.28h2.8M302.80,307.28h-2.8M38.20,303.53h5.5M302.80,303.53h-5.5M38.20,299.79h2.8M302.80,299.79h-2.8M38.20,296.04h2.8M302.80,296.04h-2.8M38.20,292.30h2.8M302.80,292.30h-2.8M38.20,288.55h5.5M302.80,288.55h-5.5M38.20,284.81h2.8M302.80,284.81h-2.8M38.20,281.06h2.8M302.80,281.06h-2.8M38.20,277.31h2.8M302.80,277.31h-2.8M38.20,273.57h5.5M302.80,273.57h-5.5M38.20,269.82h2.8M302.80,269.82h-2.8M38.20,266.08h2.8M302.80,266.08h-2.8M38.20,262.34h2.8M302.80,262.34h-2.8M38.20,258.59h5.5M302.80,258.59h-5.5" stroke="#8c8c8c" stroke-width="0.8" fill="none"/>
<line x1="38.20" y1="258.59" x2="38.20" y2="333.49" stroke="#8c8c8c" stroke-width="1"/>
<line x1="302.80" y1="258.59" x2="302.80" y2="333.49" stroke="#8c8c8c" stroke-width="1"/>
<path d="M38.20,333.49v-1.3M38.20,258.59v1.3M48.46,333.49v-1.3M48.46,258.59v1.3M56.42,333.49v-1.3M56.42,258.59v1.3M62.92,333.49v-1.3M62.92,258.59v1.3M68.42,333.49v-1.3M68.42,258.59v1.3M73.18,333.49v-1.3M73.18,258.59v1.3M77.38,333.49v-1.3M77.38,258.59v1.3M81.14,333.49v-2.0M81.14,258.59v2.0M105.86,333.49v-1.3M105.86,258.59v1.3M120.33,333.49v-1.3M120.33,258.59v1.3M130.59,333.49v-1.3M130.59,258.59v1.3M138.55,333.49v-1.3M138.55,258.59v1.3M145.05,333.49v-1.3M145.05,258.59v1.3M150.55,333.49v-1.3M150.55,258.59v1.3M155.31,333.49v-1.3M155.31,258.59v1.3M159.51,333.49v-1.3M159.51,258.59v1.3M163.27,333.49v-2.0M163.27,258.59v2.0M187.99,333.49v-1.3M187.99,258.59v1.3M202.45,333.49v-1.3M202.45,258.59v1.3M212.71,333.49v-1.3M212.71,258.59v1.3M220.67,333.49v-1.3M220.67,258.59v1.3M227.18,333.49v-1.3M227.18,258.59v1.3M232.67,333.49v-1.3M232.67,258.59v1.3M237.44,333.49v-1.3M237.44,258.59v1.3M241.64,333.49v-1.3M241.64,258.59v1.3M245.40,333.49v-2.0M245.40,258.59v2.0M270.12,333.49v-1.3M270.12,258.59v1.3M284.58,333.49v-1.3M284.58,258.59v1.3M294.84,333.49v-1.3M294.84,258.59v1.3M302.80,333.49v-1.3M302.80,258.59v1.3" stroke="#777" stroke-width="0.9" fill="none"/>
<path clip-path="url(#c4)" d="M53.42,295.97L56.42,293.07L59.42,295.97L56.42,298.87ZM63.68,297.46L66.68,294.56L69.68,297.46L66.68,300.36ZM71.64,298.81L74.64,295.91L77.64,298.81L74.64,301.71ZM78.14,299.86L81.14,296.96L84.14,299.86L81.14,302.76ZM83.64,304.58L86.64,301.68L89.64,304.58L86.64,307.48ZM88.40,306.53L91.40,303.63L94.40,306.53L91.40,309.43ZM92.60,308.17L95.60,305.27L98.60,308.17L95.60,311.07ZM96.36,309.67L99.36,306.77L102.36,309.67L99.36,312.57ZM99.76,309.99L102.76,307.09L105.76,309.99L102.76,312.89ZM102.86,310.27L105.86,307.37L108.86,310.27L105.86,313.17ZM105.72,310.58L108.72,307.68L111.72,310.58L108.72,313.48ZM108.36,310.87L111.36,307.97L114.36,310.87L111.36,313.77ZM110.82,311.14L113.82,308.24L116.82,311.14L113.82,314.04ZM113.13,311.39L116.13,308.49L119.13,311.39L116.13,314.29ZM115.29,311.62L118.29,308.72L121.29,311.62L118.29,314.52ZM117.33,311.77L120.33,308.87L123.33,311.77L120.33,314.67ZM119.26,311.91L122.26,309.01L125.26,311.91L122.26,314.81ZM121.08,312.04L124.08,309.14L127.08,312.04L124.08,314.94ZM122.82,312.17L125.82,309.27L128.82,312.17L125.82,315.07ZM124.48,312.29L127.48,309.39L130.48,312.29L127.48,315.19ZM126.07,312.42L129.07,309.52L132.07,312.42L129.07,315.32ZM127.59,312.55L130.59,309.65L133.59,312.55L130.59,315.45ZM129.04,312.67L132.04,309.77L135.04,312.67L132.04,315.57ZM130.44,313.28L133.44,310.38L136.44,313.28L133.44,316.18ZM131.79,313.87L134.79,310.97L137.79,313.87L134.79,316.77ZM133.09,313.49L136.09,310.59L139.09,313.49L136.09,316.39ZM134.34,312.77L137.34,309.87L140.34,312.77L137.34,315.67ZM135.55,312.07L138.55,309.17L141.55,312.07L138.55,314.97ZM136.72,311.39L139.72,308.49L142.72,311.39L139.72,314.29ZM137.85,310.87L140.85,307.97L143.85,310.87L140.85,313.77ZM138.95,310.35L141.95,307.45L144.95,310.35L141.95,313.25ZM140.01,309.86L143.01,306.96L146.01,309.86L143.01,312.76ZM141.04,309.37L144.04,306.47L147.04,309.37L144.04,312.27ZM142.05,309.09L145.05,306.19L148.05,309.09L145.05,311.99ZM143.03,308.81L146.03,305.91L149.03,308.81L146.03,311.71ZM143.98,308.53L146.98,305.63L149.98,308.53L146.98,311.43ZM144.90,308.27L147.90,305.37L150.90,308.27L147.90,311.17ZM145.81,308.01L148.81,305.11L151.81,308.01L148.81,310.91ZM146.69,307.76L149.69,304.86L152.69,307.76L149.69,310.66ZM147.55,307.51L150.55,304.61L153.55,307.51L150.55,310.41ZM148.39,307.28L151.39,304.38L154.39,307.28L151.39,310.18ZM149.21,307.09L152.21,304.19L155.21,307.09L152.21,309.99ZM150.01,306.92L153.01,304.02L156.01,306.92L153.01,309.82ZM150.79,306.74L153.79,303.84L156.79,306.74L153.79,309.64ZM151.56,306.57L154.56,303.67L157.56,306.57L154.56,309.47ZM152.31,306.41L155.31,303.51L158.31,306.41L155.31,309.31ZM153.05,306.24L156.05,303.34L159.05,306.24L156.05,309.14ZM153.77,306.08L156.77,303.18L159.77,306.08L156.77,308.98ZM154.47,305.93L157.47,303.03L160.47,305.93L157.47,308.83ZM155.17,305.78L158.17,302.88L161.17,305.78L158.17,308.68ZM155.84,305.64L158.84,302.74L161.84,305.64L158.84,308.54ZM156.51,305.51L159.51,302.61L162.51,305.51L159.51,308.41ZM157.17,305.37L160.17,302.47L163.17,305.37L160.17,308.27ZM157.81,305.24L160.81,302.34L163.81,305.24L160.81,308.14ZM158.44,305.11L161.44,302.21L164.44,305.11L161.44,308.01ZM159.06,304.98L162.06,302.08L165.06,304.98L162.06,307.88ZM159.67,304.85L162.67,301.95L165.67,304.85L162.67,307.75ZM160.27,304.73L163.27,301.83L166.27,304.73L163.27,307.63ZM184.99,303.68L187.99,300.78L190.99,303.68L187.99,306.58ZM199.45,303.68L202.45,300.78L205.45,303.68L202.45,306.58ZM209.71,303.68L212.71,300.78L215.71,303.68L212.71,306.58ZM217.67,303.68L220.67,300.78L223.67,303.68L220.67,306.58ZM224.18,303.68L227.18,300.78L230.18,303.68L227.18,306.58ZM229.67,303.68L232.67,300.78L235.67,303.68L232.67,306.58ZM234.44,303.68L237.44,300.78L240.44,303.68L237.44,306.58ZM238.64,303.68L241.64,300.78L244.64,303.68L241.64,306.58ZM242.40,303.68L245.40,300.78L248.40,303.68L245.40,306.58ZM256.86,303.68L259.86,300.78L262.86,303.68L259.86,306.58ZM267.12,303.68L270.12,300.78L273.12,303.68L270.12,306.58ZM275.08,303.68L278.08,300.78L281.08,303.68L278.08,306.58ZM281.58,303.68L284.58,300.78L287.58,303.68L284.58,306.58ZM287.08,303.68L290.08,300.78L293.08,303.68L290.08,306.58ZM291.84,303.68L294.84,300.78L297.84,303.68L294.84,306.58ZM296.04,303.68L299.04,300.78L302.04,303.68L299.04,306.58Z" fill="none" stroke="#000" stroke-width="0.95"/>
<line x1="365.50" y1="258.59" x2="630.10" y2="258.59" stroke="#b9b9b9" stroke-width="1.3"/>
<line x1="365.50" y1="333.49" x2="630.10" y2="333.49" stroke="#b9b9b9" stroke-width="1.3"/>
<path d="M365.50,333.49h5.5M630.10,333.49h-5.5M365.50,331.62h2.8M630.10,331.62h-2.8M365.50,329.75h2.8M630.10,329.75h-2.8M365.50,327.87h2.8M630.10,327.87h-2.8M365.50,326.00h2.8M630.10,326.00h-2.8M365.50,324.13h2.8M630.10,324.13h-2.8M365.50,322.25h2.8M630.10,322.25h-2.8M365.50,320.38h2.8M630.10,320.38h-2.8M365.50,318.51h2.8M630.10,318.51h-2.8M365.50,316.64h2.8M630.10,316.64h-2.8M365.50,314.76h5.5M630.10,314.76h-5.5M365.50,312.89h2.8M630.10,312.89h-2.8M365.50,311.02h2.8M630.10,311.02h-2.8M365.50,309.15h2.8M630.10,309.15h-2.8M365.50,307.28h2.8M630.10,307.28h-2.8M365.50,305.40h2.8M630.10,305.40h-2.8M365.50,303.53h2.8M630.10,303.53h-2.8M365.50,301.66h2.8M630.10,301.66h-2.8M365.50,299.79h2.8M630.10,299.79h-2.8M365.50,297.91h2.8M630.10,297.91h-2.8M365.50,296.04h5.5M630.10,296.04h-5.5M365.50,294.17h2.8M630.10,294.17h-2.8M365.50,292.30h2.8M630.10,292.30h-2.8M365.50,290.42h2.8M630.10,290.42h-2.8M365.50,288.55h2.8M630.10,288.55h-2.8M365.50,286.68h2.8M630.10,286.68h-2.8M365.50,284.81h2.8M630.10,284.81h-2.8M365.50,282.93h2.8M630.10,282.93h-2.8M365.50,281.06h2.8M630.10,281.06h-2.8M365.50,279.19h2.8M630.10,279.19h-2.8M365.50,277.31h5.5M630.10,277.31h-5.5M365.50,275.44h2.8M630.10,275.44h-2.8M365.50,273.57h2.8M630.10,273.57h-2.8M365.50,271.70h2.8M630.10,271.70h-2.8M365.50,269.82h2.8M630.10,269.82h-2.8M365.50,267.95h2.8M630.10,267.95h-2.8M365.50,266.08h2.8M630.10,266.08h-2.8M365.50,264.21h2.8M630.10,264.21h-2.8M365.50,262.34h2.8M630.10,262.34h-2.8M365.50,260.46h2.8M630.10,260.46h-2.8M365.50,258.59h5.5M630.10,258.59h-5.5" stroke="#8c8c8c" stroke-width="0.55" fill="none"/>
<line x1="365.50" y1="258.59" x2="365.50" y2="333.49" stroke="#8c8c8c" stroke-width="1"/>
<line x1="630.10" y1="258.59" x2="630.10" y2="333.49" stroke="#8c8c8c" stroke-width="1"/>
<path d="M365.50,333.49v-1.3M365.50,258.59v1.3M375.76,333.49v-1.3M375.76,258.59v1.3M383.72,333.49v-1.3M383.72,258.59v1.3M390.22,333.49v-1.3M390.22,258.59v1.3M395.72,333.49v-1.3M395.72,258.59v1.3M400.48,333.49v-1.3M400.48,258.59v1.3M404.68,333.49v-1.3M404.68,258.59v1.3M408.44,333.49v-2.0M408.44,258.59v2.0M433.16,333.49v-1.3M433.16,258.59v1.3M447.63,333.49v-1.3M447.63,258.59v1.3M457.89,333.49v-1.3M457.89,258.59v1.3M465.85,333.49v-1.3M465.85,258.59v1.3M472.35,333.49v-1.3M472.35,258.59v1.3M477.85,333.49v-1.3M477.85,258.59v1.3M482.61,333.49v-1.3M482.61,258.59v1.3M486.81,333.49v-1.3M486.81,258.59v1.3M490.57,333.49v-2.0M490.57,258.59v2.0M515.29,333.49v-1.3M515.29,258.59v1.3M529.75,333.49v-1.3M529.75,258.59v1.3M540.01,333.49v-1.3M540.01,258.59v1.3M547.97,333.49v-1.3M547.97,258.59v1.3M554.48,333.49v-1.3M554.48,258.59v1.3M559.97,333.49v-1.3M559.97,258.59v1.3M564.74,333.49v-1.3M564.74,258.59v1.3M568.94,333.49v-1.3M568.94,258.59v1.3M572.70,333.49v-2.0M572.70,258.59v2.0M597.42,333.49v-1.3M597.42,258.59v1.3M611.88,333.49v-1.3M611.88,258.59v1.3M622.14,333.49v-1.3M622.14,258.59v1.3M630.10,333.49v-1.3M630.10,258.59v1.3" stroke="#777" stroke-width="0.9" fill="none"/>
<path clip-path="url(#c5)" d="M380.72,312.18L383.72,309.28L386.72,312.18L383.72,315.08ZM390.98,299.90L393.98,297.00L396.98,299.90L393.98,302.80ZM398.94,292.99L401.94,290.09L404.94,292.99L401.94,295.89ZM405.44,279.79L408.44,276.89L411.44,279.79L408.44,282.69ZM410.94,275.50L413.94,272.60L416.94,275.50L413.94,278.40ZM415.70,273.57L418.70,270.67L421.70,273.57L418.70,276.47ZM419.90,271.59L422.90,268.69L425.90,271.59L422.90,274.49ZM423.66,270.78L426.66,267.88L429.66,270.78L426.66,273.68ZM427.06,270.62L430.06,267.72L433.06,270.62L430.06,273.52ZM430.16,270.48L433.16,267.58L436.16,270.48L433.16,273.38ZM433.02,270.64L436.02,267.74L439.02,270.64L436.02,273.54ZM435.66,270.78L438.66,267.88L441.66,270.78L438.66,273.68ZM438.12,271.12L441.12,268.22L444.12,271.12L441.12,274.02ZM440.43,271.43L443.43,268.53L446.43,271.43L443.43,274.33ZM442.59,271.80L445.59,268.90L448.59,271.80L445.59,274.70ZM444.63,272.22L447.63,269.32L450.63,272.22L447.63,275.12ZM446.56,272.61L449.56,269.71L452.56,272.61L449.56,275.51ZM448.38,272.98L451.38,270.08L454.38,272.98L451.38,275.88ZM450.12,273.40L453.12,270.50L456.12,273.40L453.12,276.30ZM451.78,273.90L454.78,271.00L457.78,273.90L454.78,276.80ZM453.37,274.37L456.37,271.47L459.37,274.37L456.37,277.27ZM454.89,274.83L457.89,271.93L460.89,274.83L457.89,277.73ZM456.34,275.27L459.34,272.37L462.34,275.27L459.34,278.17ZM457.74,275.69L460.74,272.79L463.74,275.69L460.74,278.59ZM459.09,276.47L462.09,273.57L465.09,276.47L462.09,279.37ZM460.39,277.22L463.39,274.32L466.39,277.22L463.39,280.12ZM461.64,277.95L464.64,275.05L467.64,277.95L464.64,280.85ZM462.85,278.65L465.85,275.75L468.85,278.65L465.85,281.55ZM464.02,279.33L467.02,276.43L470.02,279.33L467.02,282.23ZM465.15,279.99L468.15,277.09L471.15,279.99L468.15,282.89ZM466.25,280.65L469.25,277.75L472.25,280.65L469.25,283.55ZM467.31,281.28L470.31,278.38L473.31,281.28L470.31,284.18ZM468.34,281.90L471.34,279.00L474.34,281.90L471.34,284.80ZM469.35,282.50L472.35,279.60L475.35,282.50L472.35,285.40ZM470.33,283.08L473.33,280.18L476.33,283.08L473.33,285.98ZM471.28,283.65L474.28,280.75L477.28,283.65L474.28,286.55ZM472.20,284.09L475.20,281.19L478.20,284.09L475.20,286.99ZM473.11,284.35L476.11,281.45L479.11,284.35L476.11,287.25ZM473.99,284.61L476.99,281.71L479.99,284.61L476.99,287.51ZM474.85,284.87L477.85,281.97L480.85,284.87L477.85,287.77ZM475.69,285.11L478.69,282.21L481.69,285.11L478.69,288.01ZM476.51,285.35L479.51,282.45L482.51,285.35L479.51,288.25ZM477.31,285.59L480.31,282.69L483.31,285.59L480.31,288.49ZM478.09,285.82L481.09,282.92L484.09,285.82L481.09,288.72ZM478.86,286.05L481.86,283.15L484.86,286.05L481.86,288.95ZM479.61,286.27L482.61,283.37L485.61,286.27L482.61,289.17ZM480.35,286.48L483.35,283.58L486.35,286.48L483.35,289.38ZM481.07,286.70L484.07,283.80L487.07,286.70L484.07,289.60ZM481.77,286.91L484.77,284.01L487.77,286.91L484.77,289.81ZM482.47,287.12L485.47,284.22L488.47,287.12L485.47,290.02ZM483.14,287.33L486.14,284.43L489.14,287.33L486.14,290.23ZM483.81,287.53L486.81,284.63L489.81,287.53L486.81,290.43ZM484.47,287.73L487.47,284.83L490.47,287.73L487.47,290.63ZM485.11,287.93L488.11,285.03L491.11,287.93L488.11,290.83ZM485.74,288.12L488.74,285.22L491.74,288.12L488.74,291.02ZM486.36,288.31L489.36,285.41L492.36,288.31L489.36,291.21ZM486.97,288.50L489.97,285.60L492.97,288.50L489.97,291.40ZM487.57,288.68L490.57,285.78L493.57,288.68L490.57,291.58ZM512.29,291.28L515.29,288.38L518.29,291.28L515.29,294.18ZM526.75,291.28L529.75,288.38L532.75,291.28L529.75,294.18ZM537.01,291.28L540.01,288.38L543.01,291.28L540.01,294.18ZM544.97,291.28L547.97,288.38L550.97,291.28L547.97,294.18ZM551.48,291.28L554.48,288.38L557.48,291.28L554.48,294.18ZM556.97,291.28L559.97,288.38L562.97,291.28L559.97,294.18ZM561.74,291.28L564.74,288.38L567.74,291.28L564.74,294.18ZM565.94,291.28L568.94,288.38L571.94,291.28L568.94,294.18ZM569.70,291.28L572.70,288.38L575.70,291.28L572.70,294.18ZM584.16,291.28L587.16,288.38L590.16,291.28L587.16,294.18ZM594.42,291.28L597.42,288.38L600.42,291.28L597.42,294.18ZM602.38,291.28L605.38,288.38L608.38,291.28L605.38,294.18ZM608.88,291.28L611.88,288.38L614.88,291.28L611.88,294.18ZM614.38,291.28L617.38,288.38L620.38,291.28L617.38,294.18ZM619.14,291.28L622.14,288.38L625.14,291.28L622.14,294.18ZM623.34,291.28L626.34,288.38L629.34,291.28L626.34,294.18Z" fill="none" stroke="#000" stroke-width="0.95"/>
<line x1="38.20" y1="379.46" x2="302.80" y2="379.46" stroke="#b9b9b9" stroke-width="1.3"/>
<line x1="38.20" y1="454.36" x2="302.80" y2="454.36" stroke="#b9b9b9" stroke-width="1.3"/>
<path d="M38.20,454.36h5.5M302.80,454.36h-5.5M38.20,450.62h2.8M302.80,450.62h-2.8M38.20,446.87h2.8M302.80,446.87h-2.8M38.20,443.12h2.8M302.80,443.12h-2.8M38.20,439.38h5.5M302.80,439.38h-5.5M38.20,435.63h2.8M302.80,435.63h-2.8M38.20,431.89h2.8M302.80,431.89h-2.8M38.20,428.15h2.8M302.80,428.15h-2.8M38.20,424.40h5.5M302.80,424.40h-5.5M38.20,420.66h2.8M302.80,420.66h-2.8M38.20,416.91h2.8M302.80,416.91h-2.8M38.20,413.17h2.8M302.80,413.17h-2.8M38.20,409.42h5.5M302.80,409.42h-5.5M38.20,405.68h2.8M302.80,405.68h-2.8M38.20,401.93h2.8M302.80,401.93h-2.8M38.20,398.19h2.8M302.80,398.19h-2.8M38.20,394.44h5.5M302.80,394.44h-5.5M38.20,390.69h2.8M302.80,390.69h-2.8M38.20,386.95h2.8M302.80,386.95h-2.8M38.20,383.21h2.8M302.80,383.21h-2.8M38.20,379.46h5.5M302.80,379.46h-5.5" stroke="#8c8c8c" stroke-width="0.8" fill="none"/>
<line x1="38.20" y1="379.46" x2="38.20" y2="454.36" stroke="#8c8c8c" stroke-width="1"/>
<line x1="302.80" y1="379.46" x2="302.80" y2="454.36" stroke="#8c8c8c" stroke-width="1"/>
<path d="M38.20,454.36v-1.3M38.20,379.46v1.3M48.46,454.36v-1.3M48.46,379.46v1.3M56.42,454.36v-1.3M56.42,379.46v1.3M62.92,454.36v-1.3M62.92,379.46v1.3M68.42,454.36v-1.3M68.42,379.46v1.3M73.18,454.36v-1.3M73.18,379.46v1.3M77.38,454.36v-1.3M77.38,379.46v1.3M81.14,454.36v-2.0M81.14,379.46v2.0M105.86,454.36v-1.3M105.86,379.46v1.3M120.33,454.36v-1.3M120.33,379.46v1.3M130.59,454.36v-1.3M130.59,379.46v1.3M138.55,454.36v-1.3M138.55,379.46v1.3M145.05,454.36v-1.3M145.05,379.46v1.3M150.55,454.36v-1.3M150.55,379.46v1.3M155.31,454.36v-1.3M155.31,379.46v1.3M159.51,454.36v-1.3M159.51,379.46v1.3M163.27,454.36v-2.0M163.27,379.46v2.0M187.99,454.36v-1.3M187.99,379.46v1.3M202.45,454.36v-1.3M202.45,379.46v1.3M212.71,454.36v-1.3M212.71,379.46v1.3M220.67,454.36v-1.3M220.67,379.46v1.3M227.18,454.36v-1.3M227.18,379.46v1.3M232.67,454.36v-1.3M232.67,379.46v1.3M237.44,454.36v-1.3M237.44,379.46v1.3M241.64,454.36v-1.3M241.64,379.46v1.3M245.40,454.36v-2.0M245.40,379.46v2.0M270.12,454.36v-1.3M270.12,379.46v1.3M284.58,454.36v-1.3M284.58,379.46v1.3M294.84,454.36v-1.3M294.84,379.46v1.3M302.80,454.36v-1.3M302.80,379.46v1.3" stroke="#777" stroke-width="0.9" fill="none"/>
<path clip-path="url(#c6)" d="M53.42,385.45L56.42,382.55L59.42,385.45L56.42,388.35ZM63.68,385.83L66.68,382.93L69.68,385.83L66.68,388.73ZM71.64,385.87L74.64,382.97L77.64,385.87L74.64,388.77ZM78.14,385.90L81.14,383.00L84.14,385.90L81.14,388.80ZM83.64,385.95L86.64,383.05L89.64,385.95L86.64,388.85ZM88.40,385.99L91.40,383.09L94.40,385.99L91.40,388.89ZM92.60,386.02L95.60,383.12L98.60,386.02L95.60,388.92ZM96.36,386.05L99.36,383.15L102.36,386.05L99.36,388.95ZM99.76,386.18L102.76,383.28L105.76,386.18L102.76,389.08ZM102.86,386.30L105.86,383.40L108.86,386.30L105.86,389.20ZM105.72,386.41L108.72,383.51L111.72,386.41L108.72,389.31ZM108.36,386.51L111.36,383.61L114.36,386.51L111.36,389.41ZM110.82,386.61L113.82,383.71L116.82,386.61L113.82,389.51ZM113.13,386.73L116.13,383.83L119.13,386.73L116.13,389.63ZM115.29,386.88L118.29,383.98L121.29,386.88L118.29,389.78ZM117.33,387.02L120.33,384.12L123.33,387.02L120.33,389.92ZM119.26,387.15L122.26,384.25L125.26,387.15L122.26,390.05ZM121.08,387.28L124.08,384.38L127.08,387.28L124.08,390.18ZM122.82,387.40L125.82,384.50L128.82,387.40L125.82,390.30ZM124.48,387.68L127.48,384.78L130.48,387.68L127.48,390.58ZM126.07,387.94L129.07,385.04L132.07,387.94L129.07,390.84ZM127.59,388.20L130.59,385.30L133.59,388.20L130.59,391.10ZM129.04,388.44L132.04,385.54L135.04,388.44L132.04,391.34ZM130.44,388.67L133.44,385.77L136.44,388.67L133.44,391.57ZM131.79,388.90L134.79,386.00L137.79,388.90L134.79,391.80ZM133.09,389.62L136.09,386.72L139.09,389.62L136.09,392.52ZM134.34,390.32L137.34,387.42L140.34,390.32L137.34,393.22ZM135.55,390.99L138.55,388.09L141.55,390.99L138.55,393.89ZM136.72,392.21L139.72,389.31L142.72,392.21L139.72,395.11ZM137.85,393.39L140.85,390.49L143.85,393.39L140.85,396.29ZM138.95,394.61L141.95,391.71L144.95,394.61L141.95,397.51ZM140.01,395.79L143.01,392.89L146.01,395.79L143.01,398.69ZM141.04,398.71L144.04,395.81L147.04,398.71L144.04,401.61ZM142.05,401.41L145.05,398.51L148.05,401.41L145.05,404.31ZM143.03,406.42L146.03,403.52L149.03,406.42L146.03,409.32ZM143.98,410.69L146.98,407.79L149.98,410.69L146.98,413.59ZM144.90,417.51L147.90,414.61L150.90,417.51L147.90,420.41ZM145.81,423.80L148.81,420.90L151.81,423.80L148.81,426.70ZM146.69,427.92L149.69,425.02L152.69,427.92L149.69,430.82ZM147.55,431.67L150.55,428.77L153.55,431.67L150.55,434.57ZM148.39,434.81L151.39,431.91L154.39,434.81L151.39,437.71ZM149.21,437.51L152.21,434.61L155.21,437.51L152.21,440.41ZM150.01,438.51L153.01,435.61L156.01,438.51L153.01,441.41ZM150.79,439.50L153.79,436.60L156.79,439.50L153.79,442.40ZM151.56,440.46L154.56,437.56L157.56,440.46L154.56,443.36ZM152.31,441.40L155.31,438.50L158.31,441.40L155.31,444.30ZM153.05,441.87L156.05,438.97L159.05,441.87L156.05,444.77ZM153.77,442.32L156.77,439.42L159.77,442.32L156.77,445.22ZM154.47,442.77L157.47,439.87L160.47,442.77L157.47,445.67ZM155.17,443.21L158.17,440.31L161.17,443.21L158.17,446.11ZM155.84,443.64L158.84,440.74L161.84,443.64L158.84,446.54ZM156.51,444.06L159.51,441.16L162.51,444.06L159.51,446.96ZM157.17,444.47L160.17,441.57L163.17,444.47L160.17,447.37ZM157.81,444.80L160.81,441.90L163.81,444.80L160.81,447.70ZM158.44,445.12L161.44,442.22L164.44,445.12L161.44,448.02ZM159.06,445.43L162.06,442.53L165.06,445.43L162.06,448.33ZM159.67,445.74L162.67,442.84L165.67,445.74L162.67,448.64ZM160.27,446.05L163.27,443.15L166.27,446.05L163.27,448.95ZM184.99,448.37L187.99,445.47L190.99,448.37L187.99,451.27ZM199.45,448.37L202.45,445.47L205.45,448.37L202.45,451.27ZM209.71,448.37L212.71,445.47L215.71,448.37L212.71,451.27ZM217.67,448.37L220.67,445.47L223.67,448.37L220.67,451.27ZM224.18,448.37L227.18,445.47L230.18,448.37L227.18,451.27ZM229.67,448.37L232.67,445.47L235.67,448.37L232.67,451.27ZM234.44,448.37L237.44,445.47L240.44,448.37L237.44,451.27ZM238.64,448.37L241.64,445.47L244.64,448.37L241.64,451.27ZM242.40,448.37L245.40,445.47L248.40,448.37L245.40,451.27ZM256.86,448.37L259.86,445.47L262.86,448.37L259.86,451.27ZM267.12,448.37L270.12,445.47L273.12,448.37L270.12,451.27ZM275.08,448.37L278.08,445.47L281.08,448.37L278.08,451.27ZM281.58,448.37L284.58,445.47L287.58,448.37L284.58,451.27ZM287.08,448.37L290.08,445.47L293.08,448.37L290.08,451.27ZM291.84,448.37L294.84,445.47L297.84,448.37L294.84,451.27ZM296.04,448.37L299.04,445.47L302.04,448.37L299.04,451.27Z" fill="none" stroke="#000" stroke-width="0.95"/>
<line x1="365.50" y1="379.46" x2="630.10" y2="379.46" stroke="#b9b9b9" stroke-width="1.3"/>
<line x1="365.50" y1="454.36" x2="630.10" y2="454.36" stroke="#b9b9b9" stroke-width="1.3"/>
<path d="M365.50,454.36h5.5M630.10,454.36h-5.5M365.50,451.36h2.8M630.10,451.36h-2.8M365.50,448.37h2.8M630.10,448.37h-2.8M365.50,445.37h2.8M630.10,445.37h-2.8M365.50,442.38h2.8M630.10,442.38h-2.8M365.50,439.38h5.5M630.10,439.38h-5.5M365.50,436.38h2.8M630.10,436.38h-2.8M365.50,433.39h2.8M630.10,433.39h-2.8M365.50,430.39h2.8M630.10,430.39h-2.8M365.50,427.40h2.8M630.10,427.40h-2.8M365.50,424.40h5.5M630.10,424.40h-5.5M365.50,421.40h2.8M630.10,421.40h-2.8M365.50,418.41h2.8M630.10,418.41h-2.8M365.50,415.41h2.8M630.10,415.41h-2.8M365.50,412.42h2.8M630.10,412.42h-2.8M365.50,409.42h5.5M630.10,409.42h-5.5M365.50,406.42h2.8M630.10,406.42h-2.8M365.50,403.43h2.8M630.10,403.43h-2.8M365.50,400.43h2.8M630.10,400.43h-2.8M365.50,397.44h2.8M630.10,397.44h-2.8M365.50,394.44h5.5M630.10,394.44h-5.5M365.50,391.44h2.8M630.10,391.44h-2.8M365.50,388.45h2.8M630.10,388.45h-2.8M365.50,385.45h2.8M630.10,385.45h-2.8M365.50,382.46h2.8M630.10,382.46h-2.8M365.50,379.46h5.5M630.10,379.46h-5.5" stroke="#8c8c8c" stroke-width="0.8" fill="none"/>
<line x1="365.50" y1="379.46" x2="365.50" y2="454.36" stroke="#8c8c8c" stroke-width="1"/>
<line x1="630.10" y1="379.46" x2="630.10" y2="454.36" stroke="#8c8c8c" stroke-width="1"/>
<path d="M365.50,454.36v-1.3M365.50,379.46v1.3M375.76,454.36v-1.3M375.76,379.46v1.3M383.72,454.36v-1.3M383.72,379.46v1.3M390.22,454.36v-1.3M390.22,379.46v1.3M395.72,454.36v-1.3M395.72,379.46v1.3M400.48,454.36v-1.3M400.48,379.46v1.3M404.68,454.36v-1.3M404.68,379.46v1.3M408.44,454.36v-2.0M408.44,379.46v2.0M433.16,454.36v-1.3M433.16,379.46v1.3M447.63,454.36v-1.3M447.63,379.46v1.3M457.89,454.36v-1.3M457.89,379.46v1.3M465.85,454.36v-1.3M465.85,379.46v1.3M472.35,454.36v-1.3M472.35,379.46v1.3M477.85,454.36v-1.3M477.85,379.46v1.3M482.61,454.36v-1.3M482.61,379.46v1.3M486.81,454.36v-1.3M486.81,379.46v1.3M490.57,454.36v-2.0M490.57,379.46v2.0M515.29,454.36v-1.3M515.29,379.46v1.3M529.75,454.36v-1.3M529.75,379.46v1.3M540.01,454.36v-1.3M540.01,379.46v1.3M547.97,454.36v-1.3M547.97,379.46v1.3M554.48,454.36v-1.3M554.48,379.46v1.3M559.97,454.36v-1.3M559.97,379.46v1.3M564.74,454.36v-1.3M564.74,379.46v1.3M568.94,454.36v-1.3M568.94,379.46v1.3M572.70,454.36v-2.0M572.70,379.46v2.0M597.42,454.36v-1.3M597.42,379.46v1.3M611.88,454.36v-1.3M611.88,379.46v1.3M622.14,454.36v-1.3M622.14,379.46v1.3M630.10,454.36v-1.3M630.10,379.46v1.3" stroke="#777" stroke-width="0.9" fill="none"/>
<path clip-path="url(#c7)" d="M380.72,414.21L383.72,411.31L386.72,414.21L383.72,417.11ZM390.98,398.24L393.98,395.34L396.98,398.24L393.98,401.14ZM398.94,390.84L401.94,387.94L404.94,390.84L401.94,393.74ZM405.44,384.04L408.44,381.14L411.44,384.04L408.44,386.94ZM410.94,384.04L413.94,381.14L416.94,384.04L413.94,386.94ZM415.70,384.25L418.70,381.35L421.70,384.25L418.70,387.15ZM419.90,385.36L422.90,382.46L425.90,385.36L422.90,388.26ZM423.66,386.35L426.66,383.45L429.66,386.35L426.66,389.25ZM427.06,387.55L430.06,384.65L433.06,387.55L430.06,390.45ZM430.16,388.75L433.16,385.85L436.16,388.75L433.16,391.65ZM433.02,390.25L436.02,387.35L439.02,390.25L436.02,393.15ZM435.66,392.34L438.66,389.44L441.66,392.34L438.66,395.24ZM438.12,393.84L441.12,390.94L444.12,393.84L441.12,396.74ZM440.43,395.03L443.43,392.13L446.43,395.03L443.43,397.93ZM442.59,396.15L445.59,393.25L448.59,396.15L445.59,399.05ZM444.63,398.09L447.63,395.19L450.63,398.09L447.63,400.99ZM446.56,400.19L449.56,397.29L452.56,400.19L449.56,403.09ZM448.38,402.44L451.38,399.54L454.38,402.44L451.38,405.34ZM450.12,405.39L453.12,402.49L456.12,405.39L453.12,408.29ZM451.78,408.19L454.78,405.29L457.78,408.19L454.78,411.09ZM453.37,410.85L456.37,407.95L459.37,410.85L456.37,413.75ZM454.89,413.40L457.89,410.50L460.89,413.40L457.89,416.30ZM456.34,416.42L459.34,413.52L462.34,416.42L459.34,419.32ZM457.74,419.31L460.74,416.41L463.74,419.31L460.74,422.21ZM459.09,422.37L462.09,419.47L465.09,422.37L462.09,425.27ZM460.39,425.60L463.39,422.70L466.39,425.60L463.39,428.50ZM461.64,428.02L464.64,425.12L467.64,428.02L464.64,430.92ZM462.85,430.44L465.85,427.54L468.85,430.44L465.85,433.34ZM464.02,432.88L467.02,429.98L470.02,432.88L467.02,435.78ZM465.15,439.17L468.15,436.27L471.15,439.17L468.15,442.07ZM466.25,444.98L469.25,442.08L472.25,444.98L469.25,447.88ZM467.31,450.76L470.31,447.86L473.31,450.76L470.31,453.66ZM480.35,449.35L483.35,446.45L486.35,449.35L483.35,452.25ZM481.07,446.57L484.07,443.67L487.07,446.57L484.07,449.47ZM481.77,444.86L484.77,441.96L487.77,444.86L484.77,447.76ZM482.47,443.18L485.47,440.28L488.47,443.18L485.47,446.08ZM483.14,441.54L486.14,438.64L489.14,441.54L486.14,444.44ZM483.81,440.29L486.81,437.39L489.81,440.29L486.81,443.19ZM484.47,439.42L487.47,436.52L490.47,439.42L487.47,442.32ZM485.11,438.56L488.11,435.66L491.11,438.56L488.11,441.46ZM485.74,437.72L488.74,434.82L491.74,437.72L488.74,440.62ZM486.36,436.90L489.36,434.00L492.36,436.90L489.36,439.80ZM486.97,436.08L489.97,433.18L492.97,436.08L489.97,438.98ZM487.57,435.19L490.57,432.29L493.57,435.19L490.57,438.09ZM512.29,424.49L515.29,421.59L518.29,424.49L515.29,427.39ZM526.75,423.29L529.75,420.39L532.75,423.29L529.75,426.19ZM537.01,422.69L540.01,419.79L543.01,422.69L540.01,425.59ZM544.97,422.51L547.97,419.61L550.97,422.51L547.97,425.41ZM551.48,422.09L554.48,419.19L557.48,422.09L554.48,424.99ZM556.97,422.06L559.97,419.16L562.97,422.06L559.97,424.96ZM561.74,422.04L564.74,419.14L567.74,422.04L564.74,424.94ZM565.94,422.01L568.94,419.11L571.94,422.01L568.94,424.91ZM569.70,421.99L572.70,419.09L575.70,421.99L572.70,424.89ZM584.16,421.91L587.16,419.01L590.16,421.91L587.16,424.81ZM594.42,421.91L597.42,419.01L600.42,421.91L597.42,424.81ZM602.38,421.91L605.38,419.01L608.38,421.91L605.38,424.81ZM608.88,421.91L611.88,419.01L614.88,421.91L611.88,424.81ZM614.38,421.91L617.38,419.01L620.38,421.91L617.38,424.81ZM619.14,421.91L622.14,419.01L625.14,421.91L622.14,424.81ZM623.34,421.91L626.34,419.01L629.34,421.91L626.34,424.81ZM479.98,450.76L482.98,447.86L485.98,450.76L482.98,453.66ZM480.71,447.95L483.71,445.05L486.71,447.95L483.71,450.85ZM481.42,445.71L484.42,442.81L487.42,445.71L484.42,448.61ZM482.12,444.02L485.12,441.12L488.12,444.02L485.12,446.92ZM482.81,442.36L485.81,439.46L488.81,442.36L485.81,445.26ZM483.48,440.73L486.48,437.83L489.48,440.73L486.48,443.63ZM484.14,439.85L487.14,436.95L490.14,439.85L487.14,442.75ZM484.79,438.99L487.79,436.09L490.79,438.99L487.79,441.89ZM485.43,438.14L488.43,435.24L491.43,438.14L488.43,441.04ZM486.05,437.31L489.05,434.41L492.05,437.31L489.05,440.21ZM486.67,436.49L489.67,433.59L492.67,436.49L489.67,439.39ZM487.27,435.63L490.27,432.73L493.27,435.63L490.27,438.53Z" fill="none" stroke="#000" stroke-width="0.95"/>
<g font-family="Liberation Sans" fill="#1e1e1e" stroke="#1e1e1e" stroke-width="0.2">
<text x="151.68" y="12.90" font-size="10.0" textLength="6.17" lengthAdjust="spacingAndGlyphs" stroke-width="0.12">4</text>
<text x="157.63" y="12.90" font-size="10.0" textLength="6.56" lengthAdjust="spacingAndGlyphs" stroke-width="0.12">3</text>
<text x="169.02" y="12.90" font-size="10.0" textLength="19.05" lengthAdjust="spacingAndGlyphs" stroke-width="0.12">GHz</text>
<text x="19.33" y="92.77" font-size="8.8" textLength="5.54" lengthAdjust="spacingAndGlyphs">−</text>
<text x="25.07" y="92.77" font-size="8.8" textLength="5.26" lengthAdjust="spacingAndGlyphs">9</text>
<text x="30.43" y="92.77" font-size="8.8" textLength="5.10" lengthAdjust="spacingAndGlyphs">0</text>
<text x="19.33" y="82.98" font-size="8.8" textLength="5.54" lengthAdjust="spacingAndGlyphs">−</text>
<text x="25.08" y="82.98" font-size="8.8" textLength="5.21" lengthAdjust="spacingAndGlyphs">8</text>
<text x="30.37" y="82.98" font-size="8.8" textLength="5.26" lengthAdjust="spacingAndGlyphs">9</text>
<text x="19.33" y="70.50" font-size="8.8" textLength="5.54" lengthAdjust="spacingAndGlyphs">−</text>
<text x="25.08" y="70.50" font-size="8.8" textLength="5.21" lengthAdjust="spacingAndGlyphs">8</text>
<text x="30.38" y="70.50" font-size="8.8" textLength="5.21" lengthAdjust="spacingAndGlyphs">8</text>
<text x="19.33" y="58.02" font-size="8.8" textLength="5.54" lengthAdjust="spacingAndGlyphs">−</text>
<text x="25.08" y="58.02" font-size="8.8" textLength="5.21" lengthAdjust="spacingAndGlyphs">8</text>
<text x="30.32" y="58.02" font-size="8.8" textLength="5.38" lengthAdjust="spacingAndGlyphs">7</text>
<text x="19.33" y="45.53" font-size="8.8" textLength="5.54" lengthAdjust="spacingAndGlyphs">−</text>
<text x="25.08" y="45.53" font-size="8.8" textLength="5.21" lengthAdjust="spacingAndGlyphs">8</text>
<text x="30.33" y="45.53" font-size="8.8" textLength="5.26" lengthAdjust="spacingAndGlyphs">6</text>
<text x="19.33" y="33.05" font-size="8.8" textLength="5.54" lengthAdjust="spacingAndGlyphs">−</text>
<text x="25.08" y="33.05" font-size="8.8" textLength="5.21" lengthAdjust="spacingAndGlyphs">8</text>
<text x="30.43" y="33.05" font-size="8.8" textLength="5.15" lengthAdjust="spacingAndGlyphs">5</text>
<text x="19.33" y="22.97" font-size="8.8" textLength="5.54" lengthAdjust="spacingAndGlyphs">−</text>
<text x="25.08" y="22.97" font-size="8.8" textLength="5.21" lengthAdjust="spacingAndGlyphs">8</text>
<text x="30.63" y="22.97" font-size="8.8" textLength="4.85" lengthAdjust="spacingAndGlyphs">4</text>
<text x="74.43" y="103.90" font-size="8.8" textLength="5.10" lengthAdjust="spacingAndGlyphs">0</text>
<text x="79.55" y="103.90" font-size="8.8" textLength="3.07" lengthAdjust="spacingAndGlyphs">.</text>
<path d="M85.24,103.95V97.74L83.64,98.89" fill="none" stroke-width="0.95" stroke-linecap="butt" stroke-linejoin="miter"/>
<path d="M159.97,103.95V97.74L158.37,98.89" fill="none" stroke-width="0.95" stroke-linecap="butt" stroke-linejoin="miter"/>
<text x="161.67" y="103.90" font-size="8.8" textLength="3.07" lengthAdjust="spacingAndGlyphs">.</text>
<text x="163.95" y="103.90" font-size="8.8" textLength="5.10" lengthAdjust="spacingAndGlyphs">0</text>
<path d="M239.45,103.95V97.74L237.85,98.89" fill="none" stroke-width="0.95" stroke-linecap="butt" stroke-linejoin="miter"/>
<text x="241.33" y="103.90" font-size="8.8" textLength="5.10" lengthAdjust="spacingAndGlyphs">0</text>
<text x="246.45" y="103.90" font-size="8.8" textLength="3.07" lengthAdjust="spacingAndGlyphs">.</text>
<text x="248.73" y="103.90" font-size="8.8" textLength="5.10" lengthAdjust="spacingAndGlyphs">0</text>
<text x="122.21" y="113.70" font-size="8.4" textLength="42.17" lengthAdjust="spacingAndGlyphs" stroke-width="0.12">integration</text>
<text x="168.42" y="113.70" font-size="8.4" textLength="24.28" lengthAdjust="spacingAndGlyphs" stroke-width="0.12">radius</text>
<text x="196.13" y="113.70" font-size="8.4" textLength="22.08" lengthAdjust="spacingAndGlyphs" stroke-width="0.12">(deg)</text>
<text transform="translate(12.60,102.38) rotate(-90)" x="0" y="0" font-size="8.4" textLength="45.55" lengthAdjust="spacingAndGlyphs" stroke-width="0.2">polarization</text>
<text transform="translate(12.60,53.05) rotate(-90)" x="0" y="0" font-size="8.4" textLength="21.36" lengthAdjust="spacingAndGlyphs" stroke-width="0.2">angle</text>
<text transform="translate(12.60,27.54) rotate(-90)" x="0" y="0" font-size="8.4" textLength="20.92" lengthAdjust="spacingAndGlyphs" stroke-width="0.2">(deg)</text>
<text x="478.98" y="12.90" font-size="10.0" textLength="6.17" lengthAdjust="spacingAndGlyphs" stroke-width="0.12">4</text>
<text x="484.93" y="12.90" font-size="10.0" textLength="6.56" lengthAdjust="spacingAndGlyphs" stroke-width="0.12">3</text>
<text x="496.32" y="12.90" font-size="10.0" textLength="19.05" lengthAdjust="spacingAndGlyphs" stroke-width="0.12">GHz</text>
<text x="345.03" y="92.77" font-size="8.8" textLength="5.10" lengthAdjust="spacingAndGlyphs">0</text>
<text x="350.16" y="92.77" font-size="8.8" textLength="3.07" lengthAdjust="spacingAndGlyphs">.</text>
<text x="352.43" y="92.77" font-size="8.8" textLength="5.10" lengthAdjust="spacingAndGlyphs">0</text>
<text x="357.73" y="92.77" font-size="8.8" textLength="5.10" lengthAdjust="spacingAndGlyphs">0</text>
<text x="345.03" y="80.49" font-size="8.8" textLength="5.10" lengthAdjust="spacingAndGlyphs">0</text>
<text x="350.16" y="80.49" font-size="8.8" textLength="3.07" lengthAdjust="spacingAndGlyphs">.</text>
<text x="352.43" y="80.49" font-size="8.8" textLength="5.10" lengthAdjust="spacingAndGlyphs">0</text>
<text x="357.62" y="80.49" font-size="8.8" textLength="5.38" lengthAdjust="spacingAndGlyphs">2</text>
<text x="345.03" y="65.51" font-size="8.8" textLength="5.10" lengthAdjust="spacingAndGlyphs">0</text>
<text x="350.16" y="65.51" font-size="8.8" textLength="3.07" lengthAdjust="spacingAndGlyphs">.</text>
<text x="352.43" y="65.51" font-size="8.8" textLength="5.10" lengthAdjust="spacingAndGlyphs">0</text>
<text x="357.93" y="65.51" font-size="8.8" textLength="4.85" lengthAdjust="spacingAndGlyphs">4</text>
<text x="345.03" y="50.53" font-size="8.8" textLength="5.10" lengthAdjust="spacingAndGlyphs">0</text>
<text x="350.16" y="50.53" font-size="8.8" textLength="3.07" lengthAdjust="spacingAndGlyphs">.</text>
<text x="352.43" y="50.53" font-size="8.8" textLength="5.10" lengthAdjust="spacingAndGlyphs">0</text>
<text x="357.63" y="50.53" font-size="8.8" textLength="5.26" lengthAdjust="spacingAndGlyphs">6</text>
<text x="345.03" y="35.55" font-size="8.8" textLength="5.10" lengthAdjust="spacingAndGlyphs">0</text>
<text x="350.16" y="35.55" font-size="8.8" textLength="3.07" lengthAdjust="spacingAndGlyphs">.</text>
<text x="352.43" y="35.55" font-size="8.8" textLength="5.10" lengthAdjust="spacingAndGlyphs">0</text>
<text x="357.68" y="35.55" font-size="8.8" textLength="5.21" lengthAdjust="spacingAndGlyphs">8</text>
<text x="345.03" y="22.97" font-size="8.8" textLength="5.10" lengthAdjust="spacingAndGlyphs">0</text>
<text x="350.16" y="22.97" font-size="8.8" textLength="3.07" lengthAdjust="spacingAndGlyphs">.</text>
<path d="M355.85,23.02V16.81L354.25,17.96" fill="none" stroke-width="0.95" stroke-linecap="butt" stroke-linejoin="miter"/>
<text x="357.73" y="22.97" font-size="8.8" textLength="5.10" lengthAdjust="spacingAndGlyphs">0</text>
<text x="401.73" y="103.90" font-size="8.8" textLength="5.10" lengthAdjust="spacingAndGlyphs">0</text>
<text x="406.85" y="103.90" font-size="8.8" textLength="3.07" lengthAdjust="spacingAndGlyphs">.</text>
<path d="M412.54,103.95V97.74L410.94,98.89" fill="none" stroke-width="0.95" stroke-linecap="butt" stroke-linejoin="miter"/>
<path d="M487.27,103.95V97.74L485.67,98.89" fill="none" stroke-width="0.95" stroke-linecap="butt" stroke-linejoin="miter"/>
<text x="488.97" y="103.90" font-size="8.8" textLength="3.07" lengthAdjust="spacingAndGlyphs">.</text>
<text x="491.25" y="103.90" font-size="8.8" textLength="5.10" lengthAdjust="spacingAndGlyphs">0</text>
<path d="M566.75,103.95V97.74L565.15,98.89" fill="none" stroke-width="0.95" stroke-linecap="butt" stroke-linejoin="miter"/>
<text x="568.63" y="103.90" font-size="8.8" textLength="5.10" lengthAdjust="spacingAndGlyphs">0</text>
<text x="573.75" y="103.90" font-size="8.8" textLength="3.07" lengthAdjust="spacingAndGlyphs">.</text>
<text x="576.03" y="103.90" font-size="8.8" textLength="5.10" lengthAdjust="spacingAndGlyphs">0</text>
<text x="449.51" y="113.70" font-size="8.4" textLength="42.17" lengthAdjust="spacingAndGlyphs" stroke-width="0.12">integration</text>
<text x="495.72" y="113.70" font-size="8.4" textLength="24.28" lengthAdjust="spacingAndGlyphs" stroke-width="0.12">radius</text>
<text x="523.43" y="113.70" font-size="8.4" textLength="22.08" lengthAdjust="spacingAndGlyphs" stroke-width="0.12">(deg)</text>
<text transform="translate(338.90,105.00) rotate(-90)" x="0" y="0" font-size="8.4" textLength="47.09" lengthAdjust="spacingAndGlyphs" stroke-width="0.2">polarization</text>
<text transform="translate(338.90,55.46) rotate(-90)" x="0" y="0" font-size="8.4" textLength="23.06" lengthAdjust="spacingAndGlyphs" stroke-width="0.2">signal</text>
<text transform="translate(338.90,28.00) rotate(-90)" x="0" y="0" font-size="8.4" textLength="13.09" lengthAdjust="spacingAndGlyphs" stroke-width="0.2">(μK</text>
<text transform="translate(338.90,11.00) rotate(-90)" x="0" y="0" font-size="8.4" textLength="11.61" lengthAdjust="spacingAndGlyphs" stroke-width="0.2">sr)</text>
<text x="151.36" y="133.60" font-size="10.0" textLength="6.70" lengthAdjust="spacingAndGlyphs" stroke-width="0.12">9</text>
<text x="157.63" y="133.60" font-size="10.0" textLength="6.56" lengthAdjust="spacingAndGlyphs" stroke-width="0.12">5</text>
<text x="169.02" y="133.60" font-size="10.0" textLength="19.26" lengthAdjust="spacingAndGlyphs" stroke-width="0.12">GHz</text>
<text x="19.33" y="213.64" font-size="8.8" textLength="5.54" lengthAdjust="spacingAndGlyphs">−</text>
<text x="25.07" y="213.64" font-size="8.8" textLength="5.26" lengthAdjust="spacingAndGlyphs">9</text>
<text x="30.43" y="213.64" font-size="8.8" textLength="5.10" lengthAdjust="spacingAndGlyphs">0</text>
<text x="19.33" y="203.85" font-size="8.8" textLength="5.54" lengthAdjust="spacingAndGlyphs">−</text>
<text x="25.08" y="203.85" font-size="8.8" textLength="5.21" lengthAdjust="spacingAndGlyphs">8</text>
<text x="30.37" y="203.85" font-size="8.8" textLength="5.26" lengthAdjust="spacingAndGlyphs">9</text>
<text x="19.33" y="191.37" font-size="8.8" textLength="5.54" lengthAdjust="spacingAndGlyphs">−</text>
<text x="25.08" y="191.37" font-size="8.8" textLength="5.21" lengthAdjust="spacingAndGlyphs">8</text>
<text x="30.38" y="191.37" font-size="8.8" textLength="5.21" lengthAdjust="spacingAndGlyphs">8</text>
<text x="19.33" y="178.89" font-size="8.8" textLength="5.54" lengthAdjust="spacingAndGlyphs">−</text>
<text x="25.08" y="178.89" font-size="8.8" textLength="5.21" lengthAdjust="spacingAndGlyphs">8</text>
<text x="30.32" y="178.89" font-size="8.8" textLength="5.38" lengthAdjust="spacingAndGlyphs">7</text>
<text x="19.33" y="166.40" font-size="8.8" textLength="5.54" lengthAdjust="spacingAndGlyphs">−</text>
<text x="25.08" y="166.40" font-size="8.8" textLength="5.21" lengthAdjust="spacingAndGlyphs">8</text>
<text x="30.33" y="166.40" font-size="8.8" textLength="5.26" lengthAdjust="spacingAndGlyphs">6</text>
<text x="19.33" y="153.92" font-size="8.8" textLength="5.54" lengthAdjust="spacingAndGlyphs">−</text>
<text x="25.08" y="153.92" font-size="8.8" textLength="5.21" lengthAdjust="spacingAndGlyphs">8</text>
<text x="30.43" y="153.92" font-size="8.8" textLength="5.15" lengthAdjust="spacingAndGlyphs">5</text>
<text x="19.33" y="143.84" font-size="8.8" textLength="5.54" lengthAdjust="spacingAndGlyphs">−</text>
<text x="25.08" y="143.84" font-size="8.8" textLength="5.21" lengthAdjust="spacingAndGlyphs">8</text>
<text x="30.63" y="143.84" font-size="8.8" textLength="4.85" lengthAdjust="spacingAndGlyphs">4</text>
<text x="74.43" y="224.77" font-size="8.8" textLength="5.10" lengthAdjust="spacingAndGlyphs">0</text>
<text x="79.55" y="224.77" font-size="8.8" textLength="3.07" lengthAdjust="spacingAndGlyphs">.</text>
<path d="M85.24,224.82V218.61L83.64,219.76" fill="none" stroke-width="0.95" stroke-linecap="butt" stroke-linejoin="miter"/>
<path d="M159.97,224.82V218.61L158.37,219.76" fill="none" stroke-width="0.95" stroke-linecap="butt" stroke-linejoin="miter"/>
<text x="161.67" y="224.77" font-size="8.8" textLength="3.07" lengthAdjust="spacingAndGlyphs">.</text>
<text x="163.95" y="224.77" font-size="8.8" textLength="5.10" lengthAdjust="spacingAndGlyphs">0</text>
<path d="M239.45,224.82V218.61L237.85,219.76" fill="none" stroke-width="0.95" stroke-linecap="butt" stroke-linejoin="miter"/>
<text x="241.33" y="224.77" font-size="8.8" textLength="5.10" lengthAdjust="spacingAndGlyphs">0</text>
<text x="246.45" y="224.77" font-size="8.8" textLength="3.07" lengthAdjust="spacingAndGlyphs">.</text>
<text x="248.73" y="224.77" font-size="8.8" textLength="5.10" lengthAdjust="spacingAndGlyphs">0</text>
<text x="122.21" y="234.57" font-size="8.4" textLength="42.17" lengthAdjust="spacingAndGlyphs" stroke-width="0.12">integration</text>
<text x="168.42" y="234.57" font-size="8.4" textLength="24.28" lengthAdjust="spacingAndGlyphs" stroke-width="0.12">radius</text>
<text x="196.13" y="234.57" font-size="8.4" textLength="22.08" lengthAdjust="spacingAndGlyphs" stroke-width="0.12">(deg)</text>
<text transform="translate(12.60,223.25) rotate(-90)" x="0" y="0" font-size="8.4" textLength="45.55" lengthAdjust="spacingAndGlyphs" stroke-width="0.2">polarization</text>
<text transform="translate(12.60,173.92) rotate(-90)" x="0" y="0" font-size="8.4" textLength="21.36" lengthAdjust="spacingAndGlyphs" stroke-width="0.2">angle</text>
<text transform="translate(12.60,148.41) rotate(-90)" x="0" y="0" font-size="8.4" textLength="20.92" lengthAdjust="spacingAndGlyphs" stroke-width="0.2">(deg)</text>
<text x="478.66" y="133.60" font-size="10.0" textLength="6.70" lengthAdjust="spacingAndGlyphs" stroke-width="0.12">9</text>
<text x="484.93" y="133.60" font-size="10.0" textLength="6.56" lengthAdjust="spacingAndGlyphs" stroke-width="0.12">5</text>
<text x="496.32" y="133.60" font-size="10.0" textLength="19.26" lengthAdjust="spacingAndGlyphs" stroke-width="0.12">GHz</text>
<text x="339.73" y="213.64" font-size="8.8" textLength="5.10" lengthAdjust="spacingAndGlyphs">0</text>
<text x="344.86" y="213.64" font-size="8.8" textLength="3.07" lengthAdjust="spacingAndGlyphs">.</text>
<text x="347.13" y="213.64" font-size="8.8" textLength="5.10" lengthAdjust="spacingAndGlyphs">0</text>
<text x="352.43" y="213.64" font-size="8.8" textLength="5.10" lengthAdjust="spacingAndGlyphs">0</text>
<text x="357.73" y="213.64" font-size="8.8" textLength="5.10" lengthAdjust="spacingAndGlyphs">0</text>
<text x="339.73" y="201.36" font-size="8.8" textLength="5.10" lengthAdjust="spacingAndGlyphs">0</text>
<text x="344.86" y="201.36" font-size="8.8" textLength="3.07" lengthAdjust="spacingAndGlyphs">.</text>
<text x="347.13" y="201.36" font-size="8.8" textLength="5.10" lengthAdjust="spacingAndGlyphs">0</text>
<text x="352.43" y="201.36" font-size="8.8" textLength="5.10" lengthAdjust="spacingAndGlyphs">0</text>
<text x="357.73" y="201.36" font-size="8.8" textLength="5.15" lengthAdjust="spacingAndGlyphs">5</text>
<text x="339.73" y="186.38" font-size="8.8" textLength="5.10" lengthAdjust="spacingAndGlyphs">0</text>
<text x="344.86" y="186.38" font-size="8.8" textLength="3.07" lengthAdjust="spacingAndGlyphs">.</text>
<text x="347.13" y="186.38" font-size="8.8" textLength="5.10" lengthAdjust="spacingAndGlyphs">0</text>
<path d="M355.85,186.43V180.22L354.25,181.37" fill="none" stroke-width="0.95" stroke-linecap="butt" stroke-linejoin="miter"/>
<text x="357.73" y="186.38" font-size="8.8" textLength="5.10" lengthAdjust="spacingAndGlyphs">0</text>
<text x="339.73" y="171.40" font-size="8.8" textLength="5.10" lengthAdjust="spacingAndGlyphs">0</text>
<text x="344.86" y="171.40" font-size="8.8" textLength="3.07" lengthAdjust="spacingAndGlyphs">.</text>
<text x="347.13" y="171.40" font-size="8.8" textLength="5.10" lengthAdjust="spacingAndGlyphs">0</text>
<path d="M355.85,171.45V165.24L354.25,166.39" fill="none" stroke-width="0.95" stroke-linecap="butt" stroke-linejoin="miter"/>
<text x="357.73" y="171.40" font-size="8.8" textLength="5.15" lengthAdjust="spacingAndGlyphs">5</text>
<text x="339.73" y="156.42" font-size="8.8" textLength="5.10" lengthAdjust="spacingAndGlyphs">0</text>
<text x="344.86" y="156.42" font-size="8.8" textLength="3.07" lengthAdjust="spacingAndGlyphs">.</text>
<text x="347.13" y="156.42" font-size="8.8" textLength="5.10" lengthAdjust="spacingAndGlyphs">0</text>
<text x="352.32" y="156.42" font-size="8.8" textLength="5.38" lengthAdjust="spacingAndGlyphs">2</text>
<text x="357.73" y="156.42" font-size="8.8" textLength="5.10" lengthAdjust="spacingAndGlyphs">0</text>
<text x="339.73" y="143.84" font-size="8.8" textLength="5.10" lengthAdjust="spacingAndGlyphs">0</text>
<text x="344.86" y="143.84" font-size="8.8" textLength="3.07" lengthAdjust="spacingAndGlyphs">.</text>
<text x="347.13" y="143.84" font-size="8.8" textLength="5.10" lengthAdjust="spacingAndGlyphs">0</text>
<text x="352.32" y="143.84" font-size="8.8" textLength="5.38" lengthAdjust="spacingAndGlyphs">2</text>
<text x="357.73" y="143.84" font-size="8.8" textLength="5.15" lengthAdjust="spacingAndGlyphs">5</text>
<text x="401.73" y="224.77" font-size="8.8" textLength="5.10" lengthAdjust="spacingAndGlyphs">0</text>
<text x="406.85" y="224.77" font-size="8.8" textLength="3.07" lengthAdjust="spacingAndGlyphs">.</text>
<path d="M412.54,224.82V218.61L410.94,219.76" fill="none" stroke-width="0.95" stroke-linecap="butt" stroke-linejoin="miter"/>
<path d="M487.27,224.82V218.61L485.67,219.76" fill="none" stroke-width="0.95" stroke-linecap="butt" stroke-linejoin="miter"/>
<text x="488.97" y="224.77" font-size="8.8" textLength="3.07" lengthAdjust="spacingAndGlyphs">.</text>
<text x="491.25" y="224.77" font-size="8.8" textLength="5.10" lengthAdjust="spacingAndGlyphs">0</text>
<path d="M566.75,224.82V218.61L565.15,219.76" fill="none" stroke-width="0.95" stroke-linecap="butt" stroke-linejoin="miter"/>
<text x="568.63" y="224.77" font-size="8.8" textLength="5.10" lengthAdjust="spacingAndGlyphs">0</text>
<text x="573.75" y="224.77" font-size="8.8" textLength="3.07" lengthAdjust="spacingAndGlyphs">.</text>
<text x="576.03" y="224.77" font-size="8.8" textLength="5.10" lengthAdjust="spacingAndGlyphs">0</text>
<text x="449.51" y="234.57" font-size="8.4" textLength="42.17" lengthAdjust="spacingAndGlyphs" stroke-width="0.12">integration</text>
<text x="495.72" y="234.57" font-size="8.4" textLength="24.28" lengthAdjust="spacingAndGlyphs" stroke-width="0.12">radius</text>
<text x="523.43" y="234.57" font-size="8.4" textLength="22.08" lengthAdjust="spacingAndGlyphs" stroke-width="0.12">(deg)</text>
<text transform="translate(333.60,225.87) rotate(-90)" x="0" y="0" font-size="8.4" textLength="47.09" lengthAdjust="spacingAndGlyphs" stroke-width="0.2">polarization</text>
<text transform="translate(333.60,176.33) rotate(-90)" x="0" y="0" font-size="8.4" textLength="23.06" lengthAdjust="spacingAndGlyphs" stroke-width="0.2">signal</text>
<text transform="translate(333.60,148.87) rotate(-90)" x="0" y="0" font-size="8.4" textLength="13.09" lengthAdjust="spacingAndGlyphs" stroke-width="0.2">(μK</text>
<text transform="translate(333.60,131.87) rotate(-90)" x="0" y="0" font-size="8.4" textLength="11.61" lengthAdjust="spacingAndGlyphs" stroke-width="0.2">sr)</text>
<path d="M152.20,254.35V247.30L150.00,248.65" fill="none" stroke-width="1.0"/>
<text x="155.08" y="254.30" font-size="10.0" textLength="6.17" lengthAdjust="spacingAndGlyphs" stroke-width="0.12">4</text>
<text x="161.03" y="254.30" font-size="10.0" textLength="6.56" lengthAdjust="spacingAndGlyphs" stroke-width="0.12">5</text>
<text x="172.42" y="254.30" font-size="10.0" textLength="19.05" lengthAdjust="spacingAndGlyphs" stroke-width="0.12">GHz</text>
<text x="19.33" y="334.51" font-size="8.8" textLength="5.54" lengthAdjust="spacingAndGlyphs">−</text>
<text x="25.07" y="334.51" font-size="8.8" textLength="5.26" lengthAdjust="spacingAndGlyphs">9</text>
<text x="30.43" y="334.51" font-size="8.8" textLength="5.10" lengthAdjust="spacingAndGlyphs">0</text>
<text x="19.33" y="322.23" font-size="8.8" textLength="5.54" lengthAdjust="spacingAndGlyphs">−</text>
<text x="25.08" y="322.23" font-size="8.8" textLength="5.21" lengthAdjust="spacingAndGlyphs">8</text>
<text x="30.38" y="322.23" font-size="8.8" textLength="5.21" lengthAdjust="spacingAndGlyphs">8</text>
<text x="19.33" y="307.25" font-size="8.8" textLength="5.54" lengthAdjust="spacingAndGlyphs">−</text>
<text x="25.08" y="307.25" font-size="8.8" textLength="5.21" lengthAdjust="spacingAndGlyphs">8</text>
<text x="30.33" y="307.25" font-size="8.8" textLength="5.26" lengthAdjust="spacingAndGlyphs">6</text>
<text x="19.33" y="292.27" font-size="8.8" textLength="5.54" lengthAdjust="spacingAndGlyphs">−</text>
<text x="25.08" y="292.27" font-size="8.8" textLength="5.21" lengthAdjust="spacingAndGlyphs">8</text>
<text x="30.63" y="292.27" font-size="8.8" textLength="4.85" lengthAdjust="spacingAndGlyphs">4</text>
<text x="19.33" y="277.29" font-size="8.8" textLength="5.54" lengthAdjust="spacingAndGlyphs">−</text>
<text x="25.08" y="277.29" font-size="8.8" textLength="5.21" lengthAdjust="spacingAndGlyphs">8</text>
<text x="30.32" y="277.29" font-size="8.8" textLength="5.38" lengthAdjust="spacingAndGlyphs">2</text>
<text x="19.33" y="264.71" font-size="8.8" textLength="5.54" lengthAdjust="spacingAndGlyphs">−</text>
<text x="25.08" y="264.71" font-size="8.8" textLength="5.21" lengthAdjust="spacingAndGlyphs">8</text>
<text x="30.43" y="264.71" font-size="8.8" textLength="5.10" lengthAdjust="spacingAndGlyphs">0</text>
<text x="74.43" y="345.64" font-size="8.8" textLength="5.10" lengthAdjust="spacingAndGlyphs">0</text>
<text x="79.55" y="345.64" font-size="8.8" textLength="3.07" lengthAdjust="spacingAndGlyphs">.</text>
<path d="M85.24,345.69V339.48L83.64,340.63" fill="none" stroke-width="0.95" stroke-linecap="butt" stroke-linejoin="miter"/>
<path d="M159.97,345.69V339.48L158.37,340.63" fill="none" stroke-width="0.95" stroke-linecap="butt" stroke-linejoin="miter"/>
<text x="161.67" y="345.64" font-size="8.8" textLength="3.07" lengthAdjust="spacingAndGlyphs">.</text>
<text x="163.95" y="345.64" font-size="8.8" textLength="5.10" lengthAdjust="spacingAndGlyphs">0</text>
<path d="M239.45,345.69V339.48L237.85,340.63" fill="none" stroke-width="0.95" stroke-linecap="butt" stroke-linejoin="miter"/>
<text x="241.33" y="345.64" font-size="8.8" textLength="5.10" lengthAdjust="spacingAndGlyphs">0</text>
<text x="246.45" y="345.64" font-size="8.8" textLength="3.07" lengthAdjust="spacingAndGlyphs">.</text>
<text x="248.73" y="345.64" font-size="8.8" textLength="5.10" lengthAdjust="spacingAndGlyphs">0</text>
<text x="122.21" y="355.44" font-size="8.4" textLength="42.17" lengthAdjust="spacingAndGlyphs" stroke-width="0.12">integration</text>
<text x="168.42" y="355.44" font-size="8.4" textLength="24.28" lengthAdjust="spacingAndGlyphs" stroke-width="0.12">radius</text>
<text x="196.13" y="355.44" font-size="8.4" textLength="22.08" lengthAdjust="spacingAndGlyphs" stroke-width="0.12">(deg)</text>
<text transform="translate(12.60,344.12) rotate(-90)" x="0" y="0" font-size="8.4" textLength="45.55" lengthAdjust="spacingAndGlyphs" stroke-width="0.2">polarization</text>
<text transform="translate(12.60,294.79) rotate(-90)" x="0" y="0" font-size="8.4" textLength="21.36" lengthAdjust="spacingAndGlyphs" stroke-width="0.2">angle</text>
<text transform="translate(12.60,269.28) rotate(-90)" x="0" y="0" font-size="8.4" textLength="20.92" lengthAdjust="spacingAndGlyphs" stroke-width="0.2">(deg)</text>
<path d="M479.50,254.35V247.30L477.30,248.65" fill="none" stroke-width="1.0"/>
<text x="482.38" y="254.30" font-size="10.0" textLength="6.17" lengthAdjust="spacingAndGlyphs" stroke-width="0.12">4</text>
<text x="488.33" y="254.30" font-size="10.0" textLength="6.56" lengthAdjust="spacingAndGlyphs" stroke-width="0.12">5</text>
<text x="499.72" y="254.30" font-size="10.0" textLength="19.05" lengthAdjust="spacingAndGlyphs" stroke-width="0.12">GHz</text>
<text x="345.03" y="334.51" font-size="8.8" textLength="5.10" lengthAdjust="spacingAndGlyphs">0</text>
<text x="350.16" y="334.51" font-size="8.8" textLength="3.07" lengthAdjust="spacingAndGlyphs">.</text>
<text x="352.43" y="334.51" font-size="8.8" textLength="5.10" lengthAdjust="spacingAndGlyphs">0</text>
<text x="357.73" y="334.51" font-size="8.8" textLength="5.10" lengthAdjust="spacingAndGlyphs">0</text>
<text x="345.78" y="318.48" font-size="8.8" textLength="5.10" lengthAdjust="spacingAndGlyphs">0</text>
<text x="350.91" y="318.48" font-size="8.8" textLength="3.07" lengthAdjust="spacingAndGlyphs">.</text>
<text x="353.18" y="318.48" font-size="8.8" textLength="5.10" lengthAdjust="spacingAndGlyphs">0</text>
<path d="M361.90,318.53V312.32L360.30,313.47" fill="none" stroke-width="0.95" stroke-linecap="butt" stroke-linejoin="miter"/>
<text x="345.03" y="299.76" font-size="8.8" textLength="5.10" lengthAdjust="spacingAndGlyphs">0</text>
<text x="350.16" y="299.76" font-size="8.8" textLength="3.07" lengthAdjust="spacingAndGlyphs">.</text>
<text x="352.43" y="299.76" font-size="8.8" textLength="5.10" lengthAdjust="spacingAndGlyphs">0</text>
<text x="357.62" y="299.76" font-size="8.8" textLength="5.38" lengthAdjust="spacingAndGlyphs">2</text>
<text x="345.03" y="281.03" font-size="8.8" textLength="5.10" lengthAdjust="spacingAndGlyphs">0</text>
<text x="350.16" y="281.03" font-size="8.8" textLength="3.07" lengthAdjust="spacingAndGlyphs">.</text>
<text x="352.43" y="281.03" font-size="8.8" textLength="5.10" lengthAdjust="spacingAndGlyphs">0</text>
<text x="357.73" y="281.03" font-size="8.8" textLength="5.15" lengthAdjust="spacingAndGlyphs">3</text>
<text x="345.03" y="264.71" font-size="8.8" textLength="5.10" lengthAdjust="spacingAndGlyphs">0</text>
<text x="350.16" y="264.71" font-size="8.8" textLength="3.07" lengthAdjust="spacingAndGlyphs">.</text>
<text x="352.43" y="264.71" font-size="8.8" textLength="5.10" lengthAdjust="spacingAndGlyphs">0</text>
<text x="357.93" y="264.71" font-size="8.8" textLength="4.85" lengthAdjust="spacingAndGlyphs">4</text>
<text x="401.73" y="345.64" font-size="8.8" textLength="5.10" lengthAdjust="spacingAndGlyphs">0</text>
<text x="406.85" y="345.64" font-size="8.8" textLength="3.07" lengthAdjust="spacingAndGlyphs">.</text>
<path d="M412.54,345.69V339.48L410.94,340.63" fill="none" stroke-width="0.95" stroke-linecap="butt" stroke-linejoin="miter"/>
<path d="M487.27,345.69V339.48L485.67,340.63" fill="none" stroke-width="0.95" stroke-linecap="butt" stroke-linejoin="miter"/>
<text x="488.97" y="345.64" font-size="8.8" textLength="3.07" lengthAdjust="spacingAndGlyphs">.</text>
<text x="491.25" y="345.64" font-size="8.8" textLength="5.10" lengthAdjust="spacingAndGlyphs">0</text>
<path d="M566.75,345.69V339.48L565.15,340.63" fill="none" stroke-width="0.95" stroke-linecap="butt" stroke-linejoin="miter"/>
<text x="568.63" y="345.64" font-size="8.8" textLength="5.10" lengthAdjust="spacingAndGlyphs">0</text>
<text x="573.75" y="345.64" font-size="8.8" textLength="3.07" lengthAdjust="spacingAndGlyphs">.</text>
<text x="576.03" y="345.64" font-size="8.8" textLength="5.10" lengthAdjust="spacingAndGlyphs">0</text>
<text x="449.51" y="355.44" font-size="8.4" textLength="42.17" lengthAdjust="spacingAndGlyphs" stroke-width="0.12">integration</text>
<text x="495.72" y="355.44" font-size="8.4" textLength="24.28" lengthAdjust="spacingAndGlyphs" stroke-width="0.12">radius</text>
<text x="523.43" y="355.44" font-size="8.4" textLength="22.08" lengthAdjust="spacingAndGlyphs" stroke-width="0.12">(deg)</text>
<text transform="translate(338.90,346.74) rotate(-90)" x="0" y="0" font-size="8.4" textLength="47.09" lengthAdjust="spacingAndGlyphs" stroke-width="0.2">polarization</text>
<text transform="translate(338.90,297.20) rotate(-90)" x="0" y="0" font-size="8.4" textLength="23.06" lengthAdjust="spacingAndGlyphs" stroke-width="0.2">signal</text>
<text transform="translate(338.90,269.74) rotate(-90)" x="0" y="0" font-size="8.4" textLength="13.09" lengthAdjust="spacingAndGlyphs" stroke-width="0.2">(μK</text>
<text transform="translate(338.90,252.74) rotate(-90)" x="0" y="0" font-size="8.4" textLength="11.61" lengthAdjust="spacingAndGlyphs" stroke-width="0.2">sr)</text>
<text x="148.38" y="375.00" font-size="10.0" textLength="6.85" lengthAdjust="spacingAndGlyphs" stroke-width="0.12">2</text>
<path d="M158.30,375.05V368.00L156.10,369.35" fill="none" stroke-width="1.0"/>
<text x="160.93" y="375.00" font-size="10.0" textLength="6.49" lengthAdjust="spacingAndGlyphs" stroke-width="0.12">0</text>
<text x="172.42" y="375.00" font-size="10.0" textLength="19.05" lengthAdjust="spacingAndGlyphs" stroke-width="0.12">GHz</text>
<text x="14.03" y="455.38" font-size="8.8" textLength="5.54" lengthAdjust="spacingAndGlyphs">−</text>
<path d="M23.25,455.43V449.22L21.65,450.37" fill="none" stroke-width="0.95" stroke-linecap="butt" stroke-linejoin="miter"/>
<text x="25.08" y="455.38" font-size="8.8" textLength="5.21" lengthAdjust="spacingAndGlyphs">8</text>
<text x="30.43" y="455.38" font-size="8.8" textLength="5.10" lengthAdjust="spacingAndGlyphs">0</text>
<text x="14.03" y="443.10" font-size="8.8" textLength="5.54" lengthAdjust="spacingAndGlyphs">−</text>
<path d="M23.25,443.15V436.94L21.65,438.09" fill="none" stroke-width="0.95" stroke-linecap="butt" stroke-linejoin="miter"/>
<text x="25.03" y="443.10" font-size="8.8" textLength="5.26" lengthAdjust="spacingAndGlyphs">6</text>
<text x="30.43" y="443.10" font-size="8.8" textLength="5.10" lengthAdjust="spacingAndGlyphs">0</text>
<text x="14.03" y="428.12" font-size="8.8" textLength="5.54" lengthAdjust="spacingAndGlyphs">−</text>
<path d="M23.25,428.17V421.96L21.65,423.11" fill="none" stroke-width="0.95" stroke-linecap="butt" stroke-linejoin="miter"/>
<text x="25.33" y="428.12" font-size="8.8" textLength="4.85" lengthAdjust="spacingAndGlyphs">4</text>
<text x="30.43" y="428.12" font-size="8.8" textLength="5.10" lengthAdjust="spacingAndGlyphs">0</text>
<text x="14.03" y="413.14" font-size="8.8" textLength="5.54" lengthAdjust="spacingAndGlyphs">−</text>
<path d="M23.25,413.19V406.98L21.65,408.13" fill="none" stroke-width="0.95" stroke-linecap="butt" stroke-linejoin="miter"/>
<text x="25.02" y="413.14" font-size="8.8" textLength="5.38" lengthAdjust="spacingAndGlyphs">2</text>
<text x="30.43" y="413.14" font-size="8.8" textLength="5.10" lengthAdjust="spacingAndGlyphs">0</text>
<text x="14.03" y="398.16" font-size="8.8" textLength="5.54" lengthAdjust="spacingAndGlyphs">−</text>
<path d="M23.25,398.21V392.00L21.65,393.15" fill="none" stroke-width="0.95" stroke-linecap="butt" stroke-linejoin="miter"/>
<text x="25.13" y="398.16" font-size="8.8" textLength="5.10" lengthAdjust="spacingAndGlyphs">0</text>
<text x="30.43" y="398.16" font-size="8.8" textLength="5.10" lengthAdjust="spacingAndGlyphs">0</text>
<text x="19.33" y="385.58" font-size="8.8" textLength="5.54" lengthAdjust="spacingAndGlyphs">−</text>
<text x="25.08" y="385.58" font-size="8.8" textLength="5.21" lengthAdjust="spacingAndGlyphs">8</text>
<text x="30.43" y="385.58" font-size="8.8" textLength="5.10" lengthAdjust="spacingAndGlyphs">0</text>
<text x="74.43" y="466.51" font-size="8.8" textLength="5.10" lengthAdjust="spacingAndGlyphs">0</text>
<text x="79.55" y="466.51" font-size="8.8" textLength="3.07" lengthAdjust="spacingAndGlyphs">.</text>
<path d="M85.24,466.56V460.35L83.64,461.50" fill="none" stroke-width="0.95" stroke-linecap="butt" stroke-linejoin="miter"/>
<path d="M159.97,466.56V460.35L158.37,461.50" fill="none" stroke-width="0.95" stroke-linecap="butt" stroke-linejoin="miter"/>
<text x="161.67" y="466.51" font-size="8.8" textLength="3.07" lengthAdjust="spacingAndGlyphs">.</text>
<text x="163.95" y="466.51" font-size="8.8" textLength="5.10" lengthAdjust="spacingAndGlyphs">0</text>
<path d="M239.45,466.56V460.35L237.85,461.50" fill="none" stroke-width="0.95" stroke-linecap="butt" stroke-linejoin="miter"/>
<text x="241.33" y="466.51" font-size="8.8" textLength="5.10" lengthAdjust="spacingAndGlyphs">0</text>
<text x="246.45" y="466.51" font-size="8.8" textLength="3.07" lengthAdjust="spacingAndGlyphs">.</text>
<text x="248.73" y="466.51" font-size="8.8" textLength="5.10" lengthAdjust="spacingAndGlyphs">0</text>
<text x="122.21" y="476.31" font-size="8.4" textLength="42.17" lengthAdjust="spacingAndGlyphs" stroke-width="0.12">integration</text>
<text x="168.42" y="476.31" font-size="8.4" textLength="24.28" lengthAdjust="spacingAndGlyphs" stroke-width="0.12">radius</text>
<text x="196.13" y="476.31" font-size="8.4" textLength="22.08" lengthAdjust="spacingAndGlyphs" stroke-width="0.12">(deg)</text>
<text transform="translate(7.10,464.99) rotate(-90)" x="0" y="0" font-size="8.4" textLength="45.55" lengthAdjust="spacingAndGlyphs" stroke-width="0.2">polarization</text>
<text transform="translate(7.10,415.66) rotate(-90)" x="0" y="0" font-size="8.4" textLength="21.36" lengthAdjust="spacingAndGlyphs" stroke-width="0.2">angle</text>
<text transform="translate(7.10,390.15) rotate(-90)" x="0" y="0" font-size="8.4" textLength="20.92" lengthAdjust="spacingAndGlyphs" stroke-width="0.2">(deg)</text>
<text x="475.68" y="375.00" font-size="10.0" textLength="6.85" lengthAdjust="spacingAndGlyphs" stroke-width="0.12">2</text>
<path d="M485.60,375.05V368.00L483.40,369.35" fill="none" stroke-width="1.0"/>
<text x="488.23" y="375.00" font-size="10.0" textLength="6.49" lengthAdjust="spacingAndGlyphs" stroke-width="0.12">0</text>
<text x="499.72" y="375.00" font-size="10.0" textLength="19.05" lengthAdjust="spacingAndGlyphs" stroke-width="0.12">GHz</text>
<text x="339.73" y="455.38" font-size="8.8" textLength="5.10" lengthAdjust="spacingAndGlyphs">0</text>
<text x="344.86" y="455.38" font-size="8.8" textLength="3.07" lengthAdjust="spacingAndGlyphs">.</text>
<text x="347.13" y="455.38" font-size="8.8" textLength="5.10" lengthAdjust="spacingAndGlyphs">0</text>
<text x="352.43" y="455.38" font-size="8.8" textLength="5.10" lengthAdjust="spacingAndGlyphs">0</text>
<text x="357.73" y="455.38" font-size="8.8" textLength="5.10" lengthAdjust="spacingAndGlyphs">0</text>
<text x="339.73" y="443.10" font-size="8.8" textLength="5.10" lengthAdjust="spacingAndGlyphs">0</text>
<text x="344.86" y="443.10" font-size="8.8" textLength="3.07" lengthAdjust="spacingAndGlyphs">.</text>
<text x="347.13" y="443.10" font-size="8.8" textLength="5.10" lengthAdjust="spacingAndGlyphs">0</text>
<text x="352.43" y="443.10" font-size="8.8" textLength="5.10" lengthAdjust="spacingAndGlyphs">0</text>
<text x="357.73" y="443.10" font-size="8.8" textLength="5.15" lengthAdjust="spacingAndGlyphs">5</text>
<text x="339.73" y="428.12" font-size="8.8" textLength="5.10" lengthAdjust="spacingAndGlyphs">0</text>
<text x="344.86" y="428.12" font-size="8.8" textLength="3.07" lengthAdjust="spacingAndGlyphs">.</text>
<text x="347.13" y="428.12" font-size="8.8" textLength="5.10" lengthAdjust="spacingAndGlyphs">0</text>
<path d="M355.85,428.17V421.96L354.25,423.11" fill="none" stroke-width="0.95" stroke-linecap="butt" stroke-linejoin="miter"/>
<text x="357.73" y="428.12" font-size="8.8" textLength="5.10" lengthAdjust="spacingAndGlyphs">0</text>
<text x="339.73" y="413.14" font-size="8.8" textLength="5.10" lengthAdjust="spacingAndGlyphs">0</text>
<text x="344.86" y="413.14" font-size="8.8" textLength="3.07" lengthAdjust="spacingAndGlyphs">.</text>
<text x="347.13" y="413.14" font-size="8.8" textLength="5.10" lengthAdjust="spacingAndGlyphs">0</text>
<path d="M355.85,413.19V406.98L354.25,408.13" fill="none" stroke-width="0.95" stroke-linecap="butt" stroke-linejoin="miter"/>
<text x="357.73" y="413.14" font-size="8.8" textLength="5.15" lengthAdjust="spacingAndGlyphs">5</text>
<text x="339.73" y="398.16" font-size="8.8" textLength="5.10" lengthAdjust="spacingAndGlyphs">0</text>
<text x="344.86" y="398.16" font-size="8.8" textLength="3.07" lengthAdjust="spacingAndGlyphs">.</text>
<text x="347.13" y="398.16" font-size="8.8" textLength="5.10" lengthAdjust="spacingAndGlyphs">0</text>
<text x="352.32" y="398.16" font-size="8.8" textLength="5.38" lengthAdjust="spacingAndGlyphs">2</text>
<text x="357.73" y="398.16" font-size="8.8" textLength="5.10" lengthAdjust="spacingAndGlyphs">0</text>
<text x="339.73" y="385.58" font-size="8.8" textLength="5.10" lengthAdjust="spacingAndGlyphs">0</text>
<text x="344.86" y="385.58" font-size="8.8" textLength="3.07" lengthAdjust="spacingAndGlyphs">.</text>
<text x="347.13" y="385.58" font-size="8.8" textLength="5.10" lengthAdjust="spacingAndGlyphs">0</text>
<text x="352.32" y="385.58" font-size="8.8" textLength="5.38" lengthAdjust="spacingAndGlyphs">2</text>
<text x="357.73" y="385.58" font-size="8.8" textLength="5.15" lengthAdjust="spacingAndGlyphs">5</text>
<text x="401.73" y="466.51" font-size="8.8" textLength="5.10" lengthAdjust="spacingAndGlyphs">0</text>
<text x="406.85" y="466.51" font-size="8.8" textLength="3.07" lengthAdjust="spacingAndGlyphs">.</text>
<path d="M412.54,466.56V460.35L410.94,461.50" fill="none" stroke-width="0.95" stroke-linecap="butt" stroke-linejoin="miter"/>
<path d="M487.27,466.56V460.35L485.67,461.50" fill="none" stroke-width="0.95" stroke-linecap="butt" stroke-linejoin="miter"/>
<text x="488.97" y="466.51" font-size="8.8" textLength="3.07" lengthAdjust="spacingAndGlyphs">.</text>
<text x="491.25" y="466.51" font-size="8.8" textLength="5.10" lengthAdjust="spacingAndGlyphs">0</text>
<path d="M566.75,466.56V460.35L565.15,461.50" fill="none" stroke-width="0.95" stroke-linecap="butt" stroke-linejoin="miter"/>
<text x="568.63" y="466.51" font-size="8.8" textLength="5.10" lengthAdjust="spacingAndGlyphs">0</text>
<text x="573.75" y="466.51" font-size="8.8" textLength="3.07" lengthAdjust="spacingAndGlyphs">.</text>
<text x="576.03" y="466.51" font-size="8.8" textLength="5.10" lengthAdjust="spacingAndGlyphs">0</text>
<text x="449.51" y="476.31" font-size="8.4" textLength="42.17" lengthAdjust="spacingAndGlyphs" stroke-width="0.12">integration</text>
<text x="495.72" y="476.31" font-size="8.4" textLength="24.28" lengthAdjust="spacingAndGlyphs" stroke-width="0.12">radius</text>
<text x="523.43" y="476.31" font-size="8.4" textLength="22.08" lengthAdjust="spacingAndGlyphs" stroke-width="0.12">(deg)</text>
<text transform="translate(333.60,467.61) rotate(-90)" x="0" y="0" font-size="8.4" textLength="47.09" lengthAdjust="spacingAndGlyphs" stroke-width="0.2">polarization</text>
<text transform="translate(333.60,418.07) rotate(-90)" x="0" y="0" font-size="8.4" textLength="23.06" lengthAdjust="spacingAndGlyphs" stroke-width="0.2">signal</text>
<text transform="translate(333.60,390.61) rotate(-90)" x="0" y="0" font-size="8.4" textLength="13.09" lengthAdjust="spacingAndGlyphs" stroke-width="0.2">(μK</text>
<text transform="translate(333.60,373.61) rotate(-90)" x="0" y="0" font-size="8.4" textLength="11.61" lengthAdjust="spacingAndGlyphs" stroke-width="0.2">sr)</text>
</g>
</svg>
</body></html>
